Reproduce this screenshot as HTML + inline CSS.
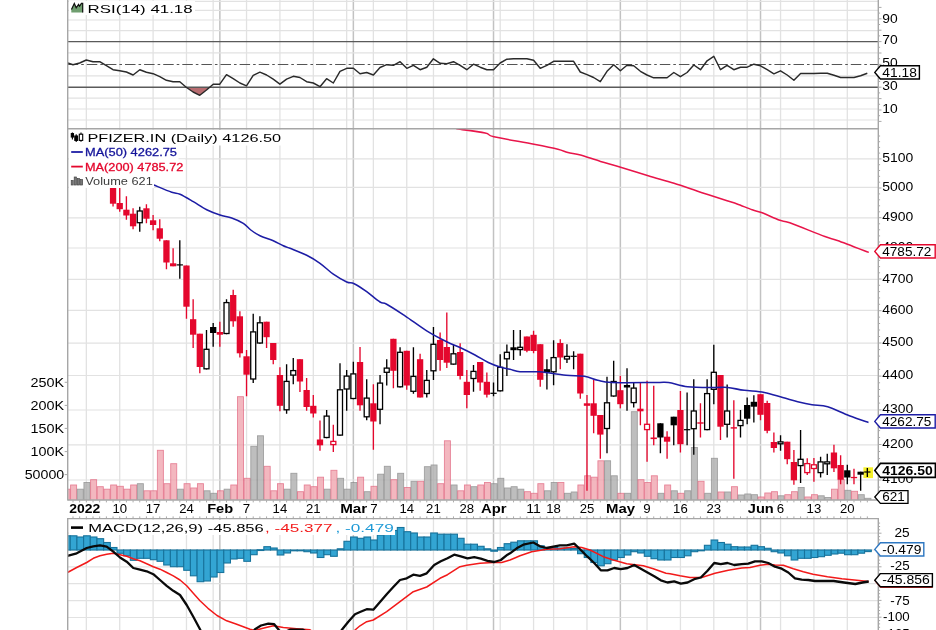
<!DOCTYPE html>
<html><head><meta charset="utf-8"><title>PFIZER.IN</title>
<style>html,body{margin:0;padding:0;background:#fff;}body{width:936px;height:630px;overflow:hidden;font-family:"Liberation Sans",sans-serif;}svg{display:block;filter:blur(0.45px)}</style>
</head><body>
<svg width="936" height="630" viewBox="0 0 936 630" font-family="Liberation Sans, sans-serif">
<rect width="936" height="630" fill="#fff"/>
<defs>
<clipPath id="cm"><rect x="67.7" y="128.8" width="810.5999999999999" height="371.2"/></clipPath>
<clipPath id="cr"><rect x="67.7" y="0" width="810.5999999999999" height="128.8"/></clipPath>
<clipPath id="cd"><rect x="67.7" y="518.6" width="810.5999999999999" height="112"/></clipPath>
</defs>
<line x1="86.35" y1="0" x2="86.35" y2="128.8" stroke="#e2e2e2" stroke-width="1.3"/>
<line x1="119.72" y1="0" x2="119.72" y2="128.8" stroke="#e2e2e2" stroke-width="1.3"/>
<line x1="153.10" y1="0" x2="153.10" y2="128.8" stroke="#e2e2e2" stroke-width="1.3"/>
<line x1="186.47" y1="0" x2="186.47" y2="128.8" stroke="#e2e2e2" stroke-width="1.3"/>
<line x1="213.18" y1="0" x2="213.18" y2="128.8" stroke="#e2e2e2" stroke-width="1.3"/>
<line x1="246.55" y1="0" x2="246.55" y2="128.8" stroke="#e2e2e2" stroke-width="1.3"/>
<line x1="279.92" y1="0" x2="279.92" y2="128.8" stroke="#e2e2e2" stroke-width="1.3"/>
<line x1="313.30" y1="0" x2="313.30" y2="128.8" stroke="#e2e2e2" stroke-width="1.3"/>
<line x1="346.67" y1="0" x2="346.67" y2="128.8" stroke="#e2e2e2" stroke-width="1.3"/>
<line x1="373.38" y1="0" x2="373.38" y2="128.8" stroke="#e2e2e2" stroke-width="1.3"/>
<line x1="406.75" y1="0" x2="406.75" y2="128.8" stroke="#e2e2e2" stroke-width="1.3"/>
<line x1="433.45" y1="0" x2="433.45" y2="128.8" stroke="#e2e2e2" stroke-width="1.3"/>
<line x1="466.82" y1="0" x2="466.82" y2="128.8" stroke="#e2e2e2" stroke-width="1.3"/>
<line x1="500.20" y1="0" x2="500.20" y2="128.8" stroke="#e2e2e2" stroke-width="1.3"/>
<line x1="533.57" y1="0" x2="533.57" y2="128.8" stroke="#e2e2e2" stroke-width="1.3"/>
<line x1="553.60" y1="0" x2="553.60" y2="128.8" stroke="#e2e2e2" stroke-width="1.3"/>
<line x1="586.98" y1="0" x2="586.98" y2="128.8" stroke="#e2e2e2" stroke-width="1.3"/>
<line x1="647.05" y1="0" x2="647.05" y2="128.8" stroke="#e2e2e2" stroke-width="1.3"/>
<line x1="680.42" y1="0" x2="680.42" y2="128.8" stroke="#e2e2e2" stroke-width="1.3"/>
<line x1="713.80" y1="0" x2="713.80" y2="128.8" stroke="#e2e2e2" stroke-width="1.3"/>
<line x1="747.17" y1="0" x2="747.17" y2="128.8" stroke="#e2e2e2" stroke-width="1.3"/>
<line x1="780.55" y1="0" x2="780.55" y2="128.8" stroke="#e2e2e2" stroke-width="1.3"/>
<line x1="813.92" y1="0" x2="813.92" y2="128.8" stroke="#e2e2e2" stroke-width="1.3"/>
<line x1="847.30" y1="0" x2="847.30" y2="128.8" stroke="#e2e2e2" stroke-width="1.3"/>
<line x1="219.85" y1="0" x2="219.85" y2="128.8" stroke="#c2c2c2" stroke-width="1.5"/>
<line x1="353.35" y1="0" x2="353.35" y2="128.8" stroke="#c2c2c2" stroke-width="1.5"/>
<line x1="493.52" y1="0" x2="493.52" y2="128.8" stroke="#c2c2c2" stroke-width="1.5"/>
<line x1="620.35" y1="0" x2="620.35" y2="128.8" stroke="#c2c2c2" stroke-width="1.5"/>
<line x1="760.52" y1="0" x2="760.52" y2="128.8" stroke="#c2c2c2" stroke-width="1.5"/>
<line x1="67.7" y1="1.3" x2="878.3" y2="1.3" stroke="#e2e2e2" stroke-width="1.2"/>
<line x1="67.7" y1="10.3" x2="878.3" y2="10.3" stroke="#e2e2e2" stroke-width="1.2"/>
<line x1="67.7" y1="20" x2="878.3" y2="20" stroke="#e2e2e2" stroke-width="1.2"/>
<line x1="67.7" y1="30.7" x2="878.3" y2="30.7" stroke="#e2e2e2" stroke-width="1.2"/>
<line x1="67.7" y1="52.9" x2="878.3" y2="52.9" stroke="#e2e2e2" stroke-width="1.2"/>
<line x1="67.7" y1="75.9" x2="878.3" y2="75.9" stroke="#e2e2e2" stroke-width="1.2"/>
<line x1="67.7" y1="98.2" x2="878.3" y2="98.2" stroke="#e2e2e2" stroke-width="1.2"/>
<line x1="67.7" y1="109" x2="878.3" y2="109" stroke="#e2e2e2" stroke-width="1.2"/>
<line x1="67.7" y1="120" x2="878.3" y2="120" stroke="#e2e2e2" stroke-width="1.2"/>
<g clip-path="url(#cr)">
<clipPath id="c30"><rect x="67.7" y="87.2" width="810.5999999999999" height="40"/></clipPath>
<polygon clip-path="url(#c30)" points="67.7,87.2 67.7,63.0 73.0,64.7 79.7,63.0 86.3,60.0 93.0,61.7 99.7,61.7 106.4,65.7 113.0,69.7 119.7,70.8 126.4,72.0 133.1,75.0 139.8,69.7 146.4,72.2 153.1,73.7 159.8,76.7 166.4,80.3 173.1,81.7 179.8,81.7 186.5,87.5 193.1,92.0 199.8,95.3 206.5,90.0 213.2,84.2 219.8,84.2 226.5,74.7 233.2,78.7 239.9,83.0 246.5,85.8 253.2,75.3 259.9,72.2 266.6,75.0 273.2,79.2 279.9,84.2 286.6,79.2 293.3,76.3 299.9,77.5 306.6,81.7 313.3,83.0 320.0,86.7 326.6,78.7 333.3,83.0 340.0,71.3 346.7,68.3 353.4,68.3 360.0,73.7 366.7,72.5 373.4,75.0 380.0,67.5 386.7,64.7 393.4,65.3 400.1,61.7 406.8,68.3 413.4,65.3 420.1,69.7 426.8,67.2 433.4,58.8 440.1,63.3 446.8,63.7 453.5,61.7 460.1,65.3 466.8,69.7 473.5,64.2 480.2,67.2 486.9,69.7 493.5,69.7 500.2,63.0 506.9,59.2 513.5,58.8 520.2,58.8 526.9,58.8 533.6,60.3 540.2,68.3 546.9,65.3 553.6,61.3 560.3,61.3 566.9,61.3 573.6,61.3 580.3,72.0 587.0,74.7 593.6,77.5 600.3,81.7 607.0,71.3 613.7,64.7 620.4,70.8 627.0,65.3 633.7,65.8 640.4,71.3 647.0,75.0 653.7,77.8 660.4,77.8 667.1,77.8 673.8,72.5 680.4,76.7 687.1,72.5 693.8,65.0 700.5,69.7 707.1,60.8 713.8,56.3 720.5,69.7 727.1,65.3 733.8,69.7 740.5,67.2 747.2,67.2 753.9,64.2 760.5,65.8 767.2,69.7 773.9,73.8 780.5,70.8 787.2,75.0 793.9,80.3 800.6,73.5 807.2,73.5 813.9,73.5 820.6,73.3 827.3,73.3 834.0,75.3 840.6,77.5 847.3,77.5 854.0,77.5 860.6,75.8 867.3,73.3 867.3,87.2" fill="#b86c70"/>
<line x1="67.7" y1="41.6" x2="878.3" y2="41.6" stroke="#5a5a5a" stroke-width="1.4"/>
<line x1="67.7" y1="87.2" x2="878.3" y2="87.2" stroke="#5a5a5a" stroke-width="1.4"/>
<line x1="67.7" y1="64.5" x2="878.3" y2="64.5" stroke="#555" stroke-width="1.1" stroke-dasharray="10.5,3,2.6,3"/>
<polyline points="67.7,63.0 73.0,64.7 79.7,63.0 86.3,60.0 93.0,61.7 99.7,61.7 106.4,65.7 113.0,69.7 119.7,70.8 126.4,72.0 133.1,75.0 139.8,69.7 146.4,72.2 153.1,73.7 159.8,76.7 166.4,80.3 173.1,81.7 179.8,81.7 186.5,87.5 193.1,92.0 199.8,95.3 206.5,90.0 213.2,84.2 219.8,84.2 226.5,74.7 233.2,78.7 239.9,83.0 246.5,85.8 253.2,75.3 259.9,72.2 266.6,75.0 273.2,79.2 279.9,84.2 286.6,79.2 293.3,76.3 299.9,77.5 306.6,81.7 313.3,83.0 320.0,86.7 326.6,78.7 333.3,83.0 340.0,71.3 346.7,68.3 353.4,68.3 360.0,73.7 366.7,72.5 373.4,75.0 380.0,67.5 386.7,64.7 393.4,65.3 400.1,61.7 406.8,68.3 413.4,65.3 420.1,69.7 426.8,67.2 433.4,58.8 440.1,63.3 446.8,63.7 453.5,61.7 460.1,65.3 466.8,69.7 473.5,64.2 480.2,67.2 486.9,69.7 493.5,69.7 500.2,63.0 506.9,59.2 513.5,58.8 520.2,58.8 526.9,58.8 533.6,60.3 540.2,68.3 546.9,65.3 553.6,61.3 560.3,61.3 566.9,61.3 573.6,61.3 580.3,72.0 587.0,74.7 593.6,77.5 600.3,81.7 607.0,71.3 613.7,64.7 620.4,70.8 627.0,65.3 633.7,65.8 640.4,71.3 647.0,75.0 653.7,77.8 660.4,77.8 667.1,77.8 673.8,72.5 680.4,76.7 687.1,72.5 693.8,65.0 700.5,69.7 707.1,60.8 713.8,56.3 720.5,69.7 727.1,65.3 733.8,69.7 740.5,67.2 747.2,67.2 753.9,64.2 760.5,65.8 767.2,69.7 773.9,73.8 780.5,70.8 787.2,75.0 793.9,80.3 800.6,73.5 807.2,73.5 813.9,73.5 820.6,73.3 827.3,73.3 834.0,75.3 840.6,77.5 847.3,77.5 854.0,77.5 860.6,75.8 867.3,73.3" fill="none" stroke="#2a2a2a" stroke-width="1.45" stroke-linejoin="round"/>
</g>
<rect x="69" y="1" width="126" height="14" fill="#fff"/>
<path d="M71.3 12.6 L71.3 9 L74.3 3.6 L76.2 7.6 L78.6 4.6 L79.6 6 L81.2 3.6 L82.9 3.6 L82.9 12.6 Z" fill="#6f9e6f"/>
<path d="M71.5 9.4 L74.3 3.4 L76.2 7.8 L78.6 4.4 L79.6 6.2 L81.4 3.4 L82.7 3.4 L82.7 12.4" fill="none" stroke="#111" stroke-width="1.2"/>
<text x="87.6" y="12.6" font-size="11.6" text-anchor="start" fill="#000" font-weight="normal" textLength="105.0" lengthAdjust="spacingAndGlyphs">RSI(14) 41.18</text>
<line x1="86.35" y1="128.8" x2="86.35" y2="500" stroke="#e2e2e2" stroke-width="1.3"/>
<line x1="119.72" y1="128.8" x2="119.72" y2="500" stroke="#e2e2e2" stroke-width="1.3"/>
<line x1="153.10" y1="128.8" x2="153.10" y2="500" stroke="#e2e2e2" stroke-width="1.3"/>
<line x1="186.47" y1="128.8" x2="186.47" y2="500" stroke="#e2e2e2" stroke-width="1.3"/>
<line x1="213.18" y1="128.8" x2="213.18" y2="500" stroke="#e2e2e2" stroke-width="1.3"/>
<line x1="246.55" y1="128.8" x2="246.55" y2="500" stroke="#e2e2e2" stroke-width="1.3"/>
<line x1="279.92" y1="128.8" x2="279.92" y2="500" stroke="#e2e2e2" stroke-width="1.3"/>
<line x1="313.30" y1="128.8" x2="313.30" y2="500" stroke="#e2e2e2" stroke-width="1.3"/>
<line x1="346.67" y1="128.8" x2="346.67" y2="500" stroke="#e2e2e2" stroke-width="1.3"/>
<line x1="373.38" y1="128.8" x2="373.38" y2="500" stroke="#e2e2e2" stroke-width="1.3"/>
<line x1="406.75" y1="128.8" x2="406.75" y2="500" stroke="#e2e2e2" stroke-width="1.3"/>
<line x1="433.45" y1="128.8" x2="433.45" y2="500" stroke="#e2e2e2" stroke-width="1.3"/>
<line x1="466.82" y1="128.8" x2="466.82" y2="500" stroke="#e2e2e2" stroke-width="1.3"/>
<line x1="500.20" y1="128.8" x2="500.20" y2="500" stroke="#e2e2e2" stroke-width="1.3"/>
<line x1="533.57" y1="128.8" x2="533.57" y2="500" stroke="#e2e2e2" stroke-width="1.3"/>
<line x1="553.60" y1="128.8" x2="553.60" y2="500" stroke="#e2e2e2" stroke-width="1.3"/>
<line x1="586.98" y1="128.8" x2="586.98" y2="500" stroke="#e2e2e2" stroke-width="1.3"/>
<line x1="647.05" y1="128.8" x2="647.05" y2="500" stroke="#e2e2e2" stroke-width="1.3"/>
<line x1="680.42" y1="128.8" x2="680.42" y2="500" stroke="#e2e2e2" stroke-width="1.3"/>
<line x1="713.80" y1="128.8" x2="713.80" y2="500" stroke="#e2e2e2" stroke-width="1.3"/>
<line x1="747.17" y1="128.8" x2="747.17" y2="500" stroke="#e2e2e2" stroke-width="1.3"/>
<line x1="780.55" y1="128.8" x2="780.55" y2="500" stroke="#e2e2e2" stroke-width="1.3"/>
<line x1="813.92" y1="128.8" x2="813.92" y2="500" stroke="#e2e2e2" stroke-width="1.3"/>
<line x1="847.30" y1="128.8" x2="847.30" y2="500" stroke="#e2e2e2" stroke-width="1.3"/>
<line x1="219.85" y1="128.8" x2="219.85" y2="500" stroke="#c2c2c2" stroke-width="1.5"/>
<line x1="353.35" y1="128.8" x2="353.35" y2="500" stroke="#c2c2c2" stroke-width="1.5"/>
<line x1="493.52" y1="128.8" x2="493.52" y2="500" stroke="#c2c2c2" stroke-width="1.5"/>
<line x1="620.35" y1="128.8" x2="620.35" y2="500" stroke="#c2c2c2" stroke-width="1.5"/>
<line x1="760.52" y1="128.8" x2="760.52" y2="500" stroke="#c2c2c2" stroke-width="1.5"/>
<line x1="67.7" y1="158.9" x2="878.3" y2="158.9" stroke="#e2e2e2" stroke-width="1.2"/>
<line x1="67.7" y1="187.4" x2="878.3" y2="187.4" stroke="#e2e2e2" stroke-width="1.2"/>
<line x1="67.7" y1="217.8" x2="878.3" y2="217.8" stroke="#e2e2e2" stroke-width="1.2"/>
<line x1="67.7" y1="248" x2="878.3" y2="248" stroke="#e2e2e2" stroke-width="1.2"/>
<line x1="67.7" y1="279.4" x2="878.3" y2="279.4" stroke="#e2e2e2" stroke-width="1.2"/>
<line x1="67.7" y1="310.4" x2="878.3" y2="310.4" stroke="#e2e2e2" stroke-width="1.2"/>
<line x1="67.7" y1="343.2" x2="878.3" y2="343.2" stroke="#e2e2e2" stroke-width="1.2"/>
<line x1="67.7" y1="375.5" x2="878.3" y2="375.5" stroke="#e2e2e2" stroke-width="1.2"/>
<line x1="67.7" y1="410" x2="878.3" y2="410" stroke="#e2e2e2" stroke-width="1.2"/>
<line x1="67.7" y1="444.9" x2="878.3" y2="444.9" stroke="#e2e2e2" stroke-width="1.2"/>
<line x1="67.7" y1="480" x2="878.3" y2="480" stroke="#e2e2e2" stroke-width="1.2"/>
<g clip-path="url(#cm)">
<rect x="63.92" y="489.2" width="6.0" height="12.8" fill="#f0a3ae" stroke="#e0607a" stroke-width="0.9" opacity="0.78"/>
<rect x="70.60" y="485.0" width="6.0" height="17.0" fill="#f0a3ae" stroke="#e0607a" stroke-width="0.9" opacity="0.78"/>
<rect x="77.27" y="489.2" width="6.0" height="12.8" fill="#acacac" stroke="#858585" stroke-width="0.9" opacity="0.78"/>
<rect x="83.95" y="482.5" width="6.0" height="19.5" fill="#acacac" stroke="#858585" stroke-width="0.9" opacity="0.78"/>
<rect x="90.62" y="479.7" width="6.0" height="22.3" fill="#f0a3ae" stroke="#e0607a" stroke-width="0.9" opacity="0.78"/>
<rect x="97.30" y="486.7" width="6.0" height="15.3" fill="#f0a3ae" stroke="#e0607a" stroke-width="0.9" opacity="0.78"/>
<rect x="103.97" y="489.2" width="6.0" height="12.8" fill="#f0a3ae" stroke="#e0607a" stroke-width="0.9" opacity="0.78"/>
<rect x="110.65" y="485.0" width="6.0" height="17.0" fill="#f0a3ae" stroke="#e0607a" stroke-width="0.9" opacity="0.78"/>
<rect x="117.32" y="486.3" width="6.0" height="15.7" fill="#f0a3ae" stroke="#e0607a" stroke-width="0.9" opacity="0.78"/>
<rect x="124.00" y="489.2" width="6.0" height="12.8" fill="#f0a3ae" stroke="#e0607a" stroke-width="0.9" opacity="0.78"/>
<rect x="130.67" y="485.0" width="6.0" height="17.0" fill="#f0a3ae" stroke="#e0607a" stroke-width="0.9" opacity="0.78"/>
<rect x="137.35" y="483.7" width="6.0" height="18.3" fill="#acacac" stroke="#858585" stroke-width="0.9" opacity="0.78"/>
<rect x="144.02" y="490.8" width="6.0" height="11.2" fill="#f0a3ae" stroke="#e0607a" stroke-width="0.9" opacity="0.78"/>
<rect x="150.70" y="490.8" width="6.0" height="11.2" fill="#f0a3ae" stroke="#e0607a" stroke-width="0.9" opacity="0.78"/>
<rect x="157.37" y="450.3" width="6.0" height="51.7" fill="#f0a3ae" stroke="#e0607a" stroke-width="0.9" opacity="0.78"/>
<rect x="164.05" y="483.7" width="6.0" height="18.3" fill="#f0a3ae" stroke="#e0607a" stroke-width="0.9" opacity="0.78"/>
<rect x="170.72" y="463.7" width="6.0" height="38.3" fill="#f0a3ae" stroke="#e0607a" stroke-width="0.9" opacity="0.78"/>
<rect x="177.40" y="489.2" width="6.0" height="12.8" fill="#acacac" stroke="#858585" stroke-width="0.9" opacity="0.78"/>
<rect x="184.07" y="483.7" width="6.0" height="18.3" fill="#f0a3ae" stroke="#e0607a" stroke-width="0.9" opacity="0.78"/>
<rect x="190.75" y="488.0" width="6.0" height="14.0" fill="#f0a3ae" stroke="#e0607a" stroke-width="0.9" opacity="0.78"/>
<rect x="197.42" y="483.7" width="6.0" height="18.3" fill="#f0a3ae" stroke="#e0607a" stroke-width="0.9" opacity="0.78"/>
<rect x="204.10" y="490.8" width="6.0" height="11.2" fill="#acacac" stroke="#858585" stroke-width="0.9" opacity="0.78"/>
<rect x="210.78" y="493.3" width="6.0" height="8.7" fill="#acacac" stroke="#858585" stroke-width="0.9" opacity="0.78"/>
<rect x="217.45" y="490.8" width="6.0" height="11.2" fill="#f0a3ae" stroke="#e0607a" stroke-width="0.9" opacity="0.78"/>
<rect x="224.12" y="489.2" width="6.0" height="12.8" fill="#acacac" stroke="#858585" stroke-width="0.9" opacity="0.78"/>
<rect x="230.80" y="485.0" width="6.0" height="17.0" fill="#f0a3ae" stroke="#e0607a" stroke-width="0.9" opacity="0.78"/>
<rect x="237.47" y="396.7" width="6.0" height="105.3" fill="#f0a3ae" stroke="#e0607a" stroke-width="0.9" opacity="0.78"/>
<rect x="244.15" y="478.3" width="6.0" height="23.7" fill="#f0a3ae" stroke="#e0607a" stroke-width="0.9" opacity="0.78"/>
<rect x="250.82" y="446.3" width="6.0" height="55.7" fill="#acacac" stroke="#858585" stroke-width="0.9" opacity="0.78"/>
<rect x="257.50" y="435.8" width="6.0" height="66.2" fill="#acacac" stroke="#858585" stroke-width="0.9" opacity="0.78"/>
<rect x="264.18" y="466.3" width="6.0" height="35.7" fill="#f0a3ae" stroke="#e0607a" stroke-width="0.9" opacity="0.78"/>
<rect x="270.85" y="490.8" width="6.0" height="11.2" fill="#f0a3ae" stroke="#e0607a" stroke-width="0.9" opacity="0.78"/>
<rect x="277.52" y="483.7" width="6.0" height="18.3" fill="#f0a3ae" stroke="#e0607a" stroke-width="0.9" opacity="0.78"/>
<rect x="284.20" y="489.2" width="6.0" height="12.8" fill="#acacac" stroke="#858585" stroke-width="0.9" opacity="0.78"/>
<rect x="290.88" y="473.3" width="6.0" height="28.7" fill="#acacac" stroke="#858585" stroke-width="0.9" opacity="0.78"/>
<rect x="297.55" y="491.7" width="6.0" height="10.3" fill="#f0a3ae" stroke="#e0607a" stroke-width="0.9" opacity="0.78"/>
<rect x="304.23" y="485.0" width="6.0" height="17.0" fill="#f0a3ae" stroke="#e0607a" stroke-width="0.9" opacity="0.78"/>
<rect x="310.90" y="486.7" width="6.0" height="15.3" fill="#f0a3ae" stroke="#e0607a" stroke-width="0.9" opacity="0.78"/>
<rect x="317.58" y="477.2" width="6.0" height="24.8" fill="#f0a3ae" stroke="#e0607a" stroke-width="0.9" opacity="0.78"/>
<rect x="324.25" y="489.2" width="6.0" height="12.8" fill="#acacac" stroke="#858585" stroke-width="0.9" opacity="0.78"/>
<rect x="330.93" y="470.3" width="6.0" height="31.7" fill="#f0a3ae" stroke="#e0607a" stroke-width="0.9" opacity="0.78"/>
<rect x="337.60" y="478.3" width="6.0" height="23.7" fill="#acacac" stroke="#858585" stroke-width="0.9" opacity="0.78"/>
<rect x="344.27" y="489.2" width="6.0" height="12.8" fill="#acacac" stroke="#858585" stroke-width="0.9" opacity="0.78"/>
<rect x="350.95" y="482.5" width="6.0" height="19.5" fill="#acacac" stroke="#858585" stroke-width="0.9" opacity="0.78"/>
<rect x="357.62" y="477.2" width="6.0" height="24.8" fill="#f0a3ae" stroke="#e0607a" stroke-width="0.9" opacity="0.78"/>
<rect x="364.30" y="491.7" width="6.0" height="10.3" fill="#acacac" stroke="#858585" stroke-width="0.9" opacity="0.78"/>
<rect x="370.98" y="486.3" width="6.0" height="15.7" fill="#f0a3ae" stroke="#e0607a" stroke-width="0.9" opacity="0.78"/>
<rect x="377.65" y="474.2" width="6.0" height="27.8" fill="#acacac" stroke="#858585" stroke-width="0.9" opacity="0.78"/>
<rect x="384.33" y="466.3" width="6.0" height="35.7" fill="#acacac" stroke="#858585" stroke-width="0.9" opacity="0.78"/>
<rect x="391.00" y="479.7" width="6.0" height="22.3" fill="#f0a3ae" stroke="#e0607a" stroke-width="0.9" opacity="0.78"/>
<rect x="397.67" y="473.3" width="6.0" height="28.7" fill="#acacac" stroke="#858585" stroke-width="0.9" opacity="0.78"/>
<rect x="404.35" y="487.5" width="6.0" height="14.5" fill="#f0a3ae" stroke="#e0607a" stroke-width="0.9" opacity="0.78"/>
<rect x="411.02" y="481.3" width="6.0" height="20.7" fill="#acacac" stroke="#858585" stroke-width="0.9" opacity="0.78"/>
<rect x="417.70" y="481.3" width="6.0" height="20.7" fill="#f0a3ae" stroke="#e0607a" stroke-width="0.9" opacity="0.78"/>
<rect x="424.38" y="466.7" width="6.0" height="35.3" fill="#acacac" stroke="#858585" stroke-width="0.9" opacity="0.78"/>
<rect x="431.05" y="465.0" width="6.0" height="37.0" fill="#acacac" stroke="#858585" stroke-width="0.9" opacity="0.78"/>
<rect x="437.73" y="483.7" width="6.0" height="18.3" fill="#f0a3ae" stroke="#e0607a" stroke-width="0.9" opacity="0.78"/>
<rect x="444.40" y="440.8" width="6.0" height="61.2" fill="#f0a3ae" stroke="#e0607a" stroke-width="0.9" opacity="0.78"/>
<rect x="451.08" y="485.0" width="6.0" height="17.0" fill="#acacac" stroke="#858585" stroke-width="0.9" opacity="0.78"/>
<rect x="457.75" y="490.8" width="6.0" height="11.2" fill="#f0a3ae" stroke="#e0607a" stroke-width="0.9" opacity="0.78"/>
<rect x="464.42" y="485.0" width="6.0" height="17.0" fill="#f0a3ae" stroke="#e0607a" stroke-width="0.9" opacity="0.78"/>
<rect x="471.10" y="486.7" width="6.0" height="15.3" fill="#acacac" stroke="#858585" stroke-width="0.9" opacity="0.78"/>
<rect x="477.77" y="485.0" width="6.0" height="17.0" fill="#f0a3ae" stroke="#e0607a" stroke-width="0.9" opacity="0.78"/>
<rect x="484.45" y="482.5" width="6.0" height="19.5" fill="#f0a3ae" stroke="#e0607a" stroke-width="0.9" opacity="0.78"/>
<rect x="491.12" y="483.7" width="6.0" height="18.3" fill="#acacac" stroke="#858585" stroke-width="0.9" opacity="0.78"/>
<rect x="497.80" y="478.3" width="6.0" height="23.7" fill="#acacac" stroke="#858585" stroke-width="0.9" opacity="0.78"/>
<rect x="504.48" y="488.0" width="6.0" height="14.0" fill="#acacac" stroke="#858585" stroke-width="0.9" opacity="0.78"/>
<rect x="511.15" y="486.7" width="6.0" height="15.3" fill="#acacac" stroke="#858585" stroke-width="0.9" opacity="0.78"/>
<rect x="517.83" y="489.2" width="6.0" height="12.8" fill="#acacac" stroke="#858585" stroke-width="0.9" opacity="0.78"/>
<rect x="524.50" y="491.7" width="6.0" height="10.3" fill="#f0a3ae" stroke="#e0607a" stroke-width="0.9" opacity="0.78"/>
<rect x="531.17" y="493.3" width="6.0" height="8.7" fill="#f0a3ae" stroke="#e0607a" stroke-width="0.9" opacity="0.78"/>
<rect x="537.85" y="483.7" width="6.0" height="18.3" fill="#f0a3ae" stroke="#e0607a" stroke-width="0.9" opacity="0.78"/>
<rect x="544.52" y="490.8" width="6.0" height="11.2" fill="#acacac" stroke="#858585" stroke-width="0.9" opacity="0.78"/>
<rect x="551.20" y="482.5" width="6.0" height="19.5" fill="#acacac" stroke="#858585" stroke-width="0.9" opacity="0.78"/>
<rect x="557.88" y="482.5" width="6.0" height="19.5" fill="#f0a3ae" stroke="#e0607a" stroke-width="0.9" opacity="0.78"/>
<rect x="564.55" y="493.3" width="6.0" height="8.7" fill="#acacac" stroke="#858585" stroke-width="0.9" opacity="0.78"/>
<rect x="571.23" y="492.0" width="6.0" height="10.0" fill="#acacac" stroke="#858585" stroke-width="0.9" opacity="0.78"/>
<rect x="577.90" y="485.0" width="6.0" height="17.0" fill="#f0a3ae" stroke="#e0607a" stroke-width="0.9" opacity="0.78"/>
<rect x="584.58" y="475.8" width="6.0" height="26.2" fill="#f0a3ae" stroke="#e0607a" stroke-width="0.9" opacity="0.78"/>
<rect x="591.25" y="477.2" width="6.0" height="24.8" fill="#f0a3ae" stroke="#e0607a" stroke-width="0.9" opacity="0.78"/>
<rect x="597.93" y="460.8" width="6.0" height="41.2" fill="#f0a3ae" stroke="#e0607a" stroke-width="0.9" opacity="0.78"/>
<rect x="604.60" y="460.8" width="6.0" height="41.2" fill="#acacac" stroke="#858585" stroke-width="0.9" opacity="0.78"/>
<rect x="611.27" y="475.8" width="6.0" height="26.2" fill="#acacac" stroke="#858585" stroke-width="0.9" opacity="0.78"/>
<rect x="617.95" y="493.3" width="6.0" height="8.7" fill="#f0a3ae" stroke="#e0607a" stroke-width="0.9" opacity="0.78"/>
<rect x="624.62" y="493.3" width="6.0" height="8.7" fill="#acacac" stroke="#858585" stroke-width="0.9" opacity="0.78"/>
<rect x="631.30" y="411.7" width="6.0" height="90.3" fill="#acacac" stroke="#858585" stroke-width="0.9" opacity="0.78"/>
<rect x="637.98" y="479.7" width="6.0" height="22.3" fill="#f0a3ae" stroke="#e0607a" stroke-width="0.9" opacity="0.78"/>
<rect x="644.65" y="482.5" width="6.0" height="19.5" fill="#f0a3ae" stroke="#e0607a" stroke-width="0.9" opacity="0.78"/>
<rect x="651.33" y="475.8" width="6.0" height="26.2" fill="#f0a3ae" stroke="#e0607a" stroke-width="0.9" opacity="0.78"/>
<rect x="658.00" y="493.3" width="6.0" height="8.7" fill="#acacac" stroke="#858585" stroke-width="0.9" opacity="0.78"/>
<rect x="664.68" y="485.0" width="6.0" height="17.0" fill="#f0a3ae" stroke="#e0607a" stroke-width="0.9" opacity="0.78"/>
<rect x="671.35" y="490.8" width="6.0" height="11.2" fill="#acacac" stroke="#858585" stroke-width="0.9" opacity="0.78"/>
<rect x="678.02" y="493.3" width="6.0" height="8.7" fill="#f0a3ae" stroke="#e0607a" stroke-width="0.9" opacity="0.78"/>
<rect x="684.70" y="490.8" width="6.0" height="11.2" fill="#acacac" stroke="#858585" stroke-width="0.9" opacity="0.78"/>
<rect x="691.38" y="447.5" width="6.0" height="54.5" fill="#acacac" stroke="#858585" stroke-width="0.9" opacity="0.78"/>
<rect x="698.05" y="481.3" width="6.0" height="20.7" fill="#f0a3ae" stroke="#e0607a" stroke-width="0.9" opacity="0.78"/>
<rect x="704.73" y="493.3" width="6.0" height="8.7" fill="#acacac" stroke="#858585" stroke-width="0.9" opacity="0.78"/>
<rect x="711.40" y="458.3" width="6.0" height="43.7" fill="#acacac" stroke="#858585" stroke-width="0.9" opacity="0.78"/>
<rect x="718.08" y="492.0" width="6.0" height="10.0" fill="#f0a3ae" stroke="#e0607a" stroke-width="0.9" opacity="0.78"/>
<rect x="724.75" y="492.0" width="6.0" height="10.0" fill="#acacac" stroke="#858585" stroke-width="0.9" opacity="0.78"/>
<rect x="731.43" y="486.7" width="6.0" height="15.3" fill="#f0a3ae" stroke="#e0607a" stroke-width="0.9" opacity="0.78"/>
<rect x="738.10" y="495.0" width="6.0" height="7.0" fill="#acacac" stroke="#858585" stroke-width="0.9" opacity="0.78"/>
<rect x="744.77" y="494.0" width="6.0" height="8.0" fill="#acacac" stroke="#858585" stroke-width="0.9" opacity="0.78"/>
<rect x="751.45" y="494.7" width="6.0" height="7.3" fill="#acacac" stroke="#858585" stroke-width="0.9" opacity="0.78"/>
<rect x="758.12" y="497.0" width="6.0" height="5.0" fill="#f0a3ae" stroke="#e0607a" stroke-width="0.9" opacity="0.78"/>
<rect x="764.80" y="493.0" width="6.0" height="9.0" fill="#f0a3ae" stroke="#e0607a" stroke-width="0.9" opacity="0.78"/>
<rect x="771.48" y="491.7" width="6.0" height="10.3" fill="#f0a3ae" stroke="#e0607a" stroke-width="0.9" opacity="0.78"/>
<rect x="778.15" y="495.8" width="6.0" height="6.2" fill="#acacac" stroke="#858585" stroke-width="0.9" opacity="0.78"/>
<rect x="784.83" y="494.7" width="6.0" height="7.3" fill="#f0a3ae" stroke="#e0607a" stroke-width="0.9" opacity="0.78"/>
<rect x="791.50" y="491.7" width="6.0" height="10.3" fill="#f0a3ae" stroke="#e0607a" stroke-width="0.9" opacity="0.78"/>
<rect x="798.18" y="487.5" width="6.0" height="14.5" fill="#acacac" stroke="#858585" stroke-width="0.9" opacity="0.78"/>
<rect x="804.85" y="497.0" width="6.0" height="5.0" fill="#f0a3ae" stroke="#e0607a" stroke-width="0.9" opacity="0.78"/>
<rect x="811.52" y="494.7" width="6.0" height="7.3" fill="#f0a3ae" stroke="#e0607a" stroke-width="0.9" opacity="0.78"/>
<rect x="818.20" y="495.8" width="6.0" height="6.2" fill="#acacac" stroke="#858585" stroke-width="0.9" opacity="0.78"/>
<rect x="824.88" y="497.5" width="6.0" height="4.5" fill="#acacac" stroke="#858585" stroke-width="0.9" opacity="0.78"/>
<rect x="831.55" y="489.2" width="6.0" height="12.8" fill="#f0a3ae" stroke="#e0607a" stroke-width="0.9" opacity="0.78"/>
<rect x="838.23" y="479.7" width="6.0" height="22.3" fill="#f0a3ae" stroke="#e0607a" stroke-width="0.9" opacity="0.78"/>
<rect x="844.90" y="490.3" width="6.0" height="11.7" fill="#acacac" stroke="#858585" stroke-width="0.9" opacity="0.78"/>
<rect x="851.58" y="491.3" width="6.0" height="10.7" fill="#f0a3ae" stroke="#e0607a" stroke-width="0.9" opacity="0.78"/>
<rect x="858.25" y="494.7" width="6.0" height="7.3" fill="#acacac" stroke="#858585" stroke-width="0.9" opacity="0.78"/>
<rect x="864.93" y="498.3" width="6.0" height="3.7" fill="#acacac" stroke="#858585" stroke-width="0.9" opacity="0.78"/>
<rect x="863.4" y="467.3" width="9.6" height="10.8" fill="#f5f02a"/>
<line x1="113.05" y1="186.0" x2="113.05" y2="206.5" stroke="#e4072d" stroke-width="1.35"/>
<rect x="109.90" y="186.0" width="6.3" height="17.7" fill="#e4072d"/>
<line x1="119.72" y1="186.0" x2="119.72" y2="211.7" stroke="#e4072d" stroke-width="1.35"/>
<rect x="116.57" y="203.0" width="6.3" height="6.2" fill="#e4072d"/>
<line x1="126.40" y1="196.3" x2="126.40" y2="219.7" stroke="#e4072d" stroke-width="1.35"/>
<rect x="123.25" y="209.7" width="6.3" height="5.8" fill="#e4072d"/>
<line x1="133.07" y1="208.3" x2="133.07" y2="229.2" stroke="#e4072d" stroke-width="1.35"/>
<rect x="129.92" y="213.7" width="6.3" height="12.6" fill="#e4072d"/>
<line x1="139.75" y1="206.7" x2="139.75" y2="231.7" stroke="#000" stroke-width="1.35"/>
<rect x="137.25" y="211.0" width="5.0" height="11.7" fill="#fff" stroke="#000" stroke-width="1.3"/>
<line x1="146.42" y1="204.2" x2="146.42" y2="223.3" stroke="#e4072d" stroke-width="1.35"/>
<rect x="143.27" y="208.3" width="6.3" height="10.4" fill="#e4072d"/>
<line x1="153.10" y1="215.0" x2="153.10" y2="230.3" stroke="#e4072d" stroke-width="1.35"/>
<rect x="149.95" y="220.3" width="6.3" height="4.7" fill="#e4072d"/>
<line x1="159.77" y1="219.2" x2="159.77" y2="241.3" stroke="#e4072d" stroke-width="1.35"/>
<rect x="156.62" y="228.3" width="6.3" height="10.4" fill="#e4072d"/>
<line x1="166.45" y1="240.3" x2="166.45" y2="269.2" stroke="#e4072d" stroke-width="1.35"/>
<rect x="163.30" y="240.3" width="6.3" height="22.2" fill="#e4072d"/>
<line x1="173.12" y1="248.3" x2="173.12" y2="266.3" stroke="#e4072d" stroke-width="1.35"/>
<rect x="169.97" y="263.3" width="6.3" height="3.0" fill="#e4072d"/>
<line x1="179.80" y1="240.3" x2="179.80" y2="278.8" stroke="#000" stroke-width="1.35"/>
<rect x="176.65" y="264.3" width="6.3" height="1.2" fill="#000"/>
<line x1="186.47" y1="265.5" x2="186.47" y2="318.7" stroke="#e4072d" stroke-width="1.35"/>
<rect x="183.32" y="265.5" width="6.3" height="41.2" fill="#e4072d"/>
<line x1="193.15" y1="299.2" x2="193.15" y2="348.0" stroke="#e4072d" stroke-width="1.35"/>
<rect x="190.00" y="319.2" width="6.3" height="15.5" fill="#e4072d"/>
<line x1="199.82" y1="333.7" x2="199.82" y2="373.3" stroke="#e4072d" stroke-width="1.35"/>
<rect x="196.67" y="333.7" width="6.3" height="33.3" fill="#e4072d"/>
<line x1="206.50" y1="330.0" x2="206.50" y2="369.5" stroke="#000" stroke-width="1.35"/>
<rect x="204.00" y="349.3" width="5.0" height="19.5" fill="#fff" stroke="#000" stroke-width="1.3"/>
<line x1="213.18" y1="323.0" x2="213.18" y2="346.7" stroke="#000" stroke-width="1.35"/>
<rect x="210.03" y="327.0" width="6.3" height="6.0" fill="#000"/>
<line x1="219.85" y1="321.7" x2="219.85" y2="346.7" stroke="#e4072d" stroke-width="1.35"/>
<rect x="216.70" y="332.0" width="6.3" height="2.7" fill="#e4072d"/>
<line x1="226.52" y1="299.2" x2="226.52" y2="334.2" stroke="#000" stroke-width="1.35"/>
<rect x="224.02" y="302.6" width="5.0" height="30.9" fill="#fff" stroke="#000" stroke-width="1.3"/>
<line x1="233.20" y1="289.7" x2="233.20" y2="326.7" stroke="#e4072d" stroke-width="1.35"/>
<rect x="230.05" y="295.0" width="6.3" height="26.3" fill="#e4072d"/>
<line x1="239.88" y1="311.2" x2="239.88" y2="357.5" stroke="#e4072d" stroke-width="1.35"/>
<rect x="236.72" y="316.3" width="6.3" height="37.0" fill="#e4072d"/>
<line x1="246.55" y1="350.0" x2="246.55" y2="396.3" stroke="#e4072d" stroke-width="1.35"/>
<rect x="243.40" y="356.3" width="6.3" height="18.4" fill="#e4072d"/>
<line x1="253.22" y1="313.8" x2="253.22" y2="383.0" stroke="#000" stroke-width="1.35"/>
<rect x="250.72" y="331.9" width="5.0" height="47.1" fill="#fff" stroke="#000" stroke-width="1.3"/>
<line x1="259.90" y1="316.3" x2="259.90" y2="343.7" stroke="#000" stroke-width="1.35"/>
<rect x="257.40" y="322.8" width="5.0" height="20.2" fill="#fff" stroke="#000" stroke-width="1.3"/>
<line x1="266.57" y1="321.7" x2="266.57" y2="348.0" stroke="#e4072d" stroke-width="1.35"/>
<rect x="263.43" y="321.7" width="6.3" height="15.5" fill="#e4072d"/>
<line x1="273.25" y1="343.0" x2="273.25" y2="364.2" stroke="#e4072d" stroke-width="1.35"/>
<rect x="270.10" y="343.0" width="6.3" height="17.0" fill="#e4072d"/>
<line x1="279.92" y1="367.2" x2="279.92" y2="411.3" stroke="#e4072d" stroke-width="1.35"/>
<rect x="276.77" y="375.0" width="6.3" height="30.8" fill="#e4072d"/>
<line x1="286.60" y1="364.2" x2="286.60" y2="413.7" stroke="#000" stroke-width="1.35"/>
<rect x="284.10" y="381.4" width="5.0" height="28.4" fill="#fff" stroke="#000" stroke-width="1.3"/>
<line x1="293.27" y1="358.0" x2="293.27" y2="384.2" stroke="#000" stroke-width="1.35"/>
<rect x="290.77" y="370.6" width="5.0" height="4.5" fill="#fff" stroke="#000" stroke-width="1.3"/>
<line x1="299.95" y1="359.2" x2="299.95" y2="392.0" stroke="#e4072d" stroke-width="1.35"/>
<rect x="296.80" y="359.2" width="6.3" height="22.3" fill="#e4072d"/>
<line x1="306.62" y1="378.0" x2="306.62" y2="410.8" stroke="#e4072d" stroke-width="1.35"/>
<rect x="303.48" y="390.0" width="6.3" height="17.0" fill="#e4072d"/>
<line x1="313.30" y1="395.0" x2="313.30" y2="417.5" stroke="#e4072d" stroke-width="1.35"/>
<rect x="310.15" y="405.8" width="6.3" height="7.7" fill="#e4072d"/>
<line x1="319.98" y1="420.5" x2="319.98" y2="450.8" stroke="#e4072d" stroke-width="1.35"/>
<rect x="316.83" y="439.5" width="6.3" height="5.8" fill="#e4072d"/>
<line x1="326.65" y1="410.0" x2="326.65" y2="438.2" stroke="#000" stroke-width="1.35"/>
<rect x="324.15" y="416.1" width="5.0" height="21.4" fill="#fff" stroke="#000" stroke-width="1.3"/>
<line x1="333.32" y1="424.7" x2="333.32" y2="452.0" stroke="#e4072d" stroke-width="1.35"/>
<rect x="330.82" y="441.4" width="5.0" height="3.2" fill="#fff" stroke="#e4072d" stroke-width="1.3"/>
<line x1="340.00" y1="363.3" x2="340.00" y2="435.8" stroke="#000" stroke-width="1.35"/>
<rect x="337.50" y="389.8" width="5.0" height="45.3" fill="#fff" stroke="#000" stroke-width="1.3"/>
<line x1="346.67" y1="370.0" x2="346.67" y2="410.8" stroke="#000" stroke-width="1.35"/>
<rect x="344.17" y="376.1" width="5.0" height="12.9" fill="#fff" stroke="#000" stroke-width="1.3"/>
<line x1="353.35" y1="361.7" x2="353.35" y2="399.2" stroke="#000" stroke-width="1.35"/>
<rect x="350.85" y="373.9" width="5.0" height="24.6" fill="#fff" stroke="#000" stroke-width="1.3"/>
<line x1="360.02" y1="347.0" x2="360.02" y2="410.8" stroke="#e4072d" stroke-width="1.35"/>
<rect x="356.88" y="362.0" width="6.3" height="43.3" fill="#e4072d"/>
<line x1="366.70" y1="379.2" x2="366.70" y2="420.3" stroke="#000" stroke-width="1.35"/>
<rect x="364.20" y="398.1" width="5.0" height="18.7" fill="#fff" stroke="#000" stroke-width="1.3"/>
<line x1="373.38" y1="384.2" x2="373.38" y2="449.7" stroke="#e4072d" stroke-width="1.35"/>
<rect x="370.23" y="403.3" width="6.3" height="18.2" fill="#e4072d"/>
<line x1="380.05" y1="375.0" x2="380.05" y2="424.2" stroke="#000" stroke-width="1.35"/>
<rect x="377.55" y="383.1" width="5.0" height="26.2" fill="#fff" stroke="#000" stroke-width="1.3"/>
<line x1="386.73" y1="359.2" x2="386.73" y2="385.5" stroke="#000" stroke-width="1.35"/>
<rect x="384.23" y="368.1" width="5.0" height="4.2" fill="#fff" stroke="#000" stroke-width="1.3"/>
<line x1="393.40" y1="338.8" x2="393.40" y2="388.3" stroke="#e4072d" stroke-width="1.35"/>
<rect x="390.25" y="338.8" width="6.3" height="32.0" fill="#e4072d"/>
<line x1="400.07" y1="347.3" x2="400.07" y2="387.5" stroke="#000" stroke-width="1.35"/>
<rect x="397.57" y="352.3" width="5.0" height="34.5" fill="#fff" stroke="#000" stroke-width="1.3"/>
<line x1="406.75" y1="350.8" x2="406.75" y2="389.7" stroke="#e4072d" stroke-width="1.35"/>
<rect x="403.60" y="350.8" width="6.3" height="34.7" fill="#e4072d"/>
<line x1="413.42" y1="347.3" x2="413.42" y2="393.7" stroke="#000" stroke-width="1.35"/>
<rect x="410.92" y="376.4" width="5.0" height="14.9" fill="#fff" stroke="#000" stroke-width="1.3"/>
<line x1="420.10" y1="353.7" x2="420.10" y2="397.5" stroke="#e4072d" stroke-width="1.35"/>
<rect x="416.95" y="359.2" width="6.3" height="38.3" fill="#e4072d"/>
<line x1="426.77" y1="370.0" x2="426.77" y2="397.5" stroke="#000" stroke-width="1.35"/>
<rect x="424.27" y="380.4" width="5.0" height="13.1" fill="#fff" stroke="#000" stroke-width="1.3"/>
<line x1="433.45" y1="327.0" x2="433.45" y2="380.0" stroke="#000" stroke-width="1.35"/>
<rect x="430.95" y="344.3" width="5.0" height="26.5" fill="#fff" stroke="#000" stroke-width="1.3"/>
<line x1="440.12" y1="332.5" x2="440.12" y2="370.8" stroke="#e4072d" stroke-width="1.35"/>
<rect x="436.98" y="340.0" width="6.3" height="20.0" fill="#e4072d"/>
<line x1="446.80" y1="312.5" x2="446.80" y2="368.0" stroke="#e4072d" stroke-width="1.35"/>
<rect x="443.65" y="347.0" width="6.3" height="15.7" fill="#e4072d"/>
<line x1="453.48" y1="345.0" x2="453.48" y2="364.8" stroke="#000" stroke-width="1.35"/>
<rect x="450.98" y="353.8" width="5.0" height="10.3" fill="#fff" stroke="#000" stroke-width="1.3"/>
<line x1="460.15" y1="343.3" x2="460.15" y2="379.6" stroke="#e4072d" stroke-width="1.35"/>
<rect x="457.00" y="352.0" width="6.3" height="24.0" fill="#e4072d"/>
<line x1="466.82" y1="370.0" x2="466.82" y2="408.3" stroke="#e4072d" stroke-width="1.35"/>
<rect x="463.67" y="381.8" width="6.3" height="13.2" fill="#e4072d"/>
<line x1="473.50" y1="365.0" x2="473.50" y2="391.7" stroke="#000" stroke-width="1.35"/>
<rect x="471.00" y="371.4" width="5.0" height="7.1" fill="#fff" stroke="#000" stroke-width="1.3"/>
<line x1="480.17" y1="362.0" x2="480.17" y2="390.8" stroke="#e4072d" stroke-width="1.35"/>
<rect x="477.02" y="362.0" width="6.3" height="20.5" fill="#e4072d"/>
<line x1="486.85" y1="372.5" x2="486.85" y2="397.5" stroke="#e4072d" stroke-width="1.35"/>
<rect x="483.70" y="381.8" width="6.3" height="12.9" fill="#e4072d"/>
<line x1="493.52" y1="382.5" x2="493.52" y2="396.3" stroke="#000" stroke-width="1.35"/>
<rect x="490.38" y="392.7" width="6.3" height="1.2" fill="#000"/>
<line x1="500.20" y1="354.2" x2="500.20" y2="391.5" stroke="#000" stroke-width="1.35"/>
<rect x="497.70" y="367.3" width="5.0" height="23.5" fill="#fff" stroke="#000" stroke-width="1.3"/>
<line x1="506.88" y1="344.4" x2="506.88" y2="376.0" stroke="#000" stroke-width="1.35"/>
<rect x="504.38" y="352.3" width="5.0" height="6.5" fill="#fff" stroke="#000" stroke-width="1.3"/>
<line x1="513.55" y1="330.0" x2="513.55" y2="360.0" stroke="#000" stroke-width="1.35"/>
<rect x="510.40" y="347.3" width="6.3" height="2.9" fill="#000"/>
<line x1="520.23" y1="330.0" x2="520.23" y2="355.8" stroke="#000" stroke-width="1.35"/>
<rect x="517.73" y="347.3" width="5.0" height="2.3" fill="#fff" stroke="#000" stroke-width="1.3"/>
<line x1="526.90" y1="336.5" x2="526.90" y2="352.2" stroke="#e4072d" stroke-width="1.35"/>
<rect x="523.75" y="336.5" width="6.3" height="14.3" fill="#e4072d"/>
<line x1="533.57" y1="330.8" x2="533.57" y2="353.3" stroke="#e4072d" stroke-width="1.35"/>
<rect x="530.42" y="334.8" width="6.3" height="16.2" fill="#e4072d"/>
<line x1="540.25" y1="344.2" x2="540.25" y2="386.7" stroke="#e4072d" stroke-width="1.35"/>
<rect x="537.10" y="344.2" width="6.3" height="35.6" fill="#e4072d"/>
<line x1="546.92" y1="359.2" x2="546.92" y2="389.5" stroke="#000" stroke-width="1.35"/>
<rect x="543.77" y="369.2" width="6.3" height="3.3" fill="#000"/>
<line x1="553.60" y1="340.3" x2="553.60" y2="385.3" stroke="#000" stroke-width="1.35"/>
<rect x="551.10" y="357.6" width="5.0" height="14.2" fill="#fff" stroke="#000" stroke-width="1.3"/>
<line x1="560.27" y1="339.2" x2="560.27" y2="369.2" stroke="#e4072d" stroke-width="1.35"/>
<rect x="557.12" y="343.0" width="6.3" height="14.5" fill="#e4072d"/>
<line x1="566.95" y1="344.2" x2="566.95" y2="363.0" stroke="#000" stroke-width="1.35"/>
<rect x="564.45" y="356.4" width="5.0" height="2.6" fill="#fff" stroke="#000" stroke-width="1.3"/>
<line x1="573.62" y1="351.3" x2="573.62" y2="369.2" stroke="#000" stroke-width="1.35"/>
<rect x="570.48" y="355.7" width="6.3" height="1.2" fill="#000"/>
<line x1="580.30" y1="353.7" x2="580.30" y2="398.7" stroke="#e4072d" stroke-width="1.35"/>
<rect x="577.15" y="353.7" width="6.3" height="39.8" fill="#e4072d"/>
<line x1="586.98" y1="395.0" x2="586.98" y2="490.8" stroke="#e4072d" stroke-width="1.35"/>
<rect x="583.83" y="403.3" width="6.3" height="2.5" fill="#e4072d"/>
<line x1="593.65" y1="380.0" x2="593.65" y2="433.3" stroke="#e4072d" stroke-width="1.35"/>
<rect x="590.50" y="403.3" width="6.3" height="12.5" fill="#e4072d"/>
<line x1="600.33" y1="415.0" x2="600.33" y2="458.8" stroke="#e4072d" stroke-width="1.35"/>
<rect x="597.18" y="415.0" width="6.3" height="19.6" fill="#e4072d"/>
<line x1="607.00" y1="376.7" x2="607.00" y2="453.3" stroke="#000" stroke-width="1.35"/>
<rect x="604.50" y="402.8" width="5.0" height="25.7" fill="#fff" stroke="#000" stroke-width="1.3"/>
<line x1="613.67" y1="360.8" x2="613.67" y2="396.7" stroke="#000" stroke-width="1.35"/>
<rect x="611.17" y="381.5" width="5.0" height="14.5" fill="#fff" stroke="#000" stroke-width="1.3"/>
<line x1="620.35" y1="375.8" x2="620.35" y2="408.3" stroke="#e4072d" stroke-width="1.35"/>
<rect x="617.20" y="390.2" width="6.3" height="14.0" fill="#e4072d"/>
<line x1="627.02" y1="368.3" x2="627.02" y2="410.8" stroke="#000" stroke-width="1.35"/>
<rect x="623.88" y="385.0" width="6.3" height="2.5" fill="#000"/>
<line x1="633.70" y1="382.5" x2="633.70" y2="407.5" stroke="#000" stroke-width="1.35"/>
<rect x="631.20" y="388.1" width="5.0" height="14.5" fill="#fff" stroke="#000" stroke-width="1.3"/>
<line x1="640.38" y1="383.0" x2="640.38" y2="425.3" stroke="#e4072d" stroke-width="1.35"/>
<rect x="637.23" y="408.7" width="6.3" height="2.6" fill="#e4072d"/>
<line x1="647.05" y1="380.8" x2="647.05" y2="461.7" stroke="#e4072d" stroke-width="1.35"/>
<rect x="644.55" y="424.3" width="5.0" height="5.3" fill="#fff" stroke="#e4072d" stroke-width="1.3"/>
<line x1="653.73" y1="385.8" x2="653.73" y2="445.3" stroke="#e4072d" stroke-width="1.35"/>
<rect x="650.58" y="437.5" width="6.3" height="1.6" fill="#e4072d"/>
<line x1="660.40" y1="423.3" x2="660.40" y2="453.3" stroke="#000" stroke-width="1.35"/>
<rect x="657.25" y="423.3" width="6.3" height="14.2" fill="#000"/>
<line x1="667.08" y1="431.3" x2="667.08" y2="458.7" stroke="#e4072d" stroke-width="1.35"/>
<rect x="663.93" y="436.7" width="6.3" height="5.0" fill="#e4072d"/>
<line x1="673.75" y1="416.7" x2="673.75" y2="445.3" stroke="#000" stroke-width="1.35"/>
<rect x="670.60" y="416.7" width="6.3" height="8.6" fill="#000"/>
<line x1="680.42" y1="391.0" x2="680.42" y2="452.5" stroke="#e4072d" stroke-width="1.35"/>
<rect x="677.27" y="410.0" width="6.3" height="34.2" fill="#e4072d"/>
<line x1="687.10" y1="392.5" x2="687.10" y2="445.3" stroke="#000" stroke-width="1.35"/>
<rect x="683.95" y="429.1" width="6.3" height="1.2" fill="#000"/>
<line x1="693.77" y1="379.2" x2="693.77" y2="454.7" stroke="#000" stroke-width="1.35"/>
<rect x="691.27" y="411.0" width="5.0" height="17.7" fill="#fff" stroke="#000" stroke-width="1.3"/>
<line x1="700.45" y1="403.2" x2="700.45" y2="437.5" stroke="#e4072d" stroke-width="1.35"/>
<rect x="697.30" y="422.3" width="6.3" height="1.4" fill="#e4072d"/>
<line x1="707.12" y1="379.2" x2="707.12" y2="430.3" stroke="#000" stroke-width="1.35"/>
<rect x="704.62" y="393.6" width="5.0" height="36.0" fill="#fff" stroke="#000" stroke-width="1.3"/>
<line x1="713.80" y1="344.7" x2="713.80" y2="404.2" stroke="#000" stroke-width="1.35"/>
<rect x="711.30" y="372.3" width="5.0" height="17.0" fill="#fff" stroke="#000" stroke-width="1.3"/>
<line x1="720.48" y1="375.0" x2="720.48" y2="440.0" stroke="#e4072d" stroke-width="1.35"/>
<rect x="717.33" y="375.0" width="6.3" height="51.7" fill="#e4072d"/>
<line x1="727.15" y1="384.4" x2="727.15" y2="437.5" stroke="#000" stroke-width="1.35"/>
<rect x="724.65" y="411.0" width="5.0" height="13.3" fill="#fff" stroke="#000" stroke-width="1.3"/>
<line x1="733.83" y1="400.3" x2="733.83" y2="478.7" stroke="#e4072d" stroke-width="1.35"/>
<rect x="730.68" y="427.2" width="6.3" height="1.4" fill="#e4072d"/>
<line x1="740.50" y1="410.0" x2="740.50" y2="437.5" stroke="#000" stroke-width="1.35"/>
<rect x="738.00" y="420.4" width="5.0" height="5.2" fill="#fff" stroke="#000" stroke-width="1.3"/>
<line x1="747.17" y1="397.5" x2="747.17" y2="424.2" stroke="#000" stroke-width="1.35"/>
<rect x="744.02" y="405.0" width="6.3" height="13.7" fill="#000"/>
<line x1="753.85" y1="395.3" x2="753.85" y2="422.5" stroke="#000" stroke-width="1.35"/>
<rect x="750.70" y="401.8" width="6.3" height="4.9" fill="#000"/>
<line x1="760.52" y1="394.2" x2="760.52" y2="420.2" stroke="#e4072d" stroke-width="1.35"/>
<rect x="757.38" y="394.2" width="6.3" height="20.6" fill="#e4072d"/>
<line x1="767.20" y1="400.8" x2="767.20" y2="433.3" stroke="#e4072d" stroke-width="1.35"/>
<rect x="764.05" y="403.0" width="6.3" height="27.8" fill="#e4072d"/>
<line x1="773.88" y1="432.5" x2="773.88" y2="452.5" stroke="#e4072d" stroke-width="1.35"/>
<rect x="770.73" y="442.0" width="6.3" height="6.0" fill="#e4072d"/>
<line x1="780.55" y1="435.3" x2="780.55" y2="450.8" stroke="#000" stroke-width="1.35"/>
<rect x="778.05" y="441.9" width="5.0" height="1.9" fill="#fff" stroke="#000" stroke-width="1.3"/>
<line x1="787.23" y1="441.7" x2="787.23" y2="464.2" stroke="#e4072d" stroke-width="1.35"/>
<rect x="784.08" y="441.7" width="6.3" height="17.5" fill="#e4072d"/>
<line x1="793.90" y1="450.0" x2="793.90" y2="484.7" stroke="#e4072d" stroke-width="1.35"/>
<rect x="790.75" y="462.0" width="6.3" height="18.3" fill="#e4072d"/>
<line x1="800.58" y1="430.0" x2="800.58" y2="483.0" stroke="#000" stroke-width="1.35"/>
<rect x="798.08" y="459.3" width="5.0" height="6.3" fill="#fff" stroke="#000" stroke-width="1.3"/>
<line x1="807.25" y1="458.3" x2="807.25" y2="475.0" stroke="#e4072d" stroke-width="1.35"/>
<rect x="804.75" y="463.6" width="5.0" height="9.0" fill="#fff" stroke="#e4072d" stroke-width="1.3"/>
<line x1="813.92" y1="458.0" x2="813.92" y2="481.7" stroke="#e4072d" stroke-width="1.35"/>
<rect x="811.42" y="464.8" width="5.0" height="3.7" fill="#fff" stroke="#e4072d" stroke-width="1.3"/>
<line x1="820.60" y1="456.7" x2="820.60" y2="477.5" stroke="#000" stroke-width="1.35"/>
<rect x="818.10" y="461.9" width="5.0" height="10.7" fill="#fff" stroke="#000" stroke-width="1.3"/>
<line x1="827.27" y1="453.7" x2="827.27" y2="475.0" stroke="#000" stroke-width="1.35"/>
<rect x="824.77" y="461.9" width="5.0" height="1.9" fill="#fff" stroke="#000" stroke-width="1.3"/>
<line x1="833.95" y1="444.7" x2="833.95" y2="472.0" stroke="#e4072d" stroke-width="1.35"/>
<rect x="830.80" y="452.5" width="6.3" height="15.8" fill="#e4072d"/>
<line x1="840.62" y1="455.3" x2="840.62" y2="484.2" stroke="#e4072d" stroke-width="1.35"/>
<rect x="837.48" y="465.0" width="6.3" height="14.7" fill="#e4072d"/>
<line x1="847.30" y1="464.7" x2="847.30" y2="484.2" stroke="#000" stroke-width="1.35"/>
<rect x="844.15" y="470.3" width="6.3" height="7.2" fill="#000"/>
<line x1="853.98" y1="468.7" x2="853.98" y2="484.2" stroke="#e4072d" stroke-width="1.35"/>
<rect x="850.83" y="476.9" width="6.3" height="1.3" fill="#e4072d"/>
<line x1="860.65" y1="471.7" x2="860.65" y2="490.8" stroke="#000" stroke-width="1.35"/>
<rect x="857.50" y="471.7" width="6.3" height="3.0" fill="#000"/>
<line x1="867.33" y1="468.0" x2="867.33" y2="477.0" stroke="#000" stroke-width="1.35"/>
<rect x="864.18" y="471.4" width="6.3" height="1.2" fill="#000"/>
<path d="M153.8 185.0C156.8 186.2 167.3 190.7 171.7 192.2C176.1 193.7 176.4 192.6 180.0 194.2C183.6 195.8 188.9 199.1 193.3 201.7C197.8 204.3 202.2 207.5 206.7 209.7C211.1 211.9 215.8 213.6 220.0 215.0C224.2 216.4 227.8 216.6 231.7 218.0C235.6 219.4 240.1 221.3 243.3 223.3C246.5 225.3 248.0 227.9 250.8 230.0C253.6 232.1 256.2 234.0 260.0 235.8C263.8 237.6 269.4 239.1 273.3 240.8C277.2 242.5 280.5 244.6 283.3 245.8C286.1 247.1 286.1 246.7 290.0 248.3C293.9 249.9 301.7 252.8 306.7 255.3C311.7 257.8 315.6 260.2 320.0 263.3C324.4 266.4 328.9 271.1 333.3 274.2C337.8 277.3 343.2 280.4 346.7 282.0C350.2 283.6 350.9 282.1 354.2 283.7C357.5 285.3 362.4 288.6 366.7 291.7C371.0 294.8 376.7 299.9 380.0 302.0C383.3 304.1 382.5 301.9 386.7 304.2C390.9 306.5 398.3 311.4 405.0 315.8C411.7 320.2 419.8 326.5 426.7 330.8C433.6 335.1 441.1 338.9 446.7 341.7C452.2 344.5 455.3 345.3 460.0 347.5C464.7 349.7 470.3 352.5 475.0 355.0C479.7 357.5 484.1 360.5 488.3 362.5C492.5 364.5 496.4 365.9 500.0 367.0C503.6 368.1 506.7 368.4 510.0 369.2C513.3 370.0 515.7 371.3 520.0 371.7C524.3 372.1 532.2 371.6 536.0 371.7C539.8 371.8 537.7 371.4 542.7 372.0C547.7 372.6 559.1 374.6 566.0 375.3C572.9 376.0 579.0 375.5 584.3 376.3C589.6 377.1 593.1 379.3 597.7 380.3C602.3 381.3 602.3 382.1 612.0 382.5C621.7 382.9 646.6 382.5 656.0 382.5C665.4 382.5 663.2 381.8 668.5 382.5C673.8 383.2 680.1 385.9 687.7 386.7C695.3 387.5 707.6 387.4 714.3 387.5C721.0 387.6 722.7 387.0 727.7 387.5C732.7 388.0 738.2 389.5 744.3 390.3C750.4 391.1 757.9 391.3 764.3 392.5C770.7 393.7 777.1 396.0 782.7 397.5C788.3 399.0 792.8 400.5 797.7 401.7C802.6 402.9 807.0 403.9 812.0 404.7C817.0 405.5 821.5 404.8 827.7 406.7C833.9 408.6 842.5 413.2 849.3 415.8C856.1 418.4 865.3 421.4 868.5 422.5" fill="none" stroke="#1d1da5" stroke-width="1.55" stroke-linejoin="round"/>
<path d="M456.3 128.8C461.1 129.5 478.8 131.7 485.1 133.0C491.4 134.3 485.8 134.9 493.9 136.8C502.0 138.7 523.3 142.2 534.0 144.3C544.7 146.4 552.2 147.9 557.9 149.3C563.5 150.7 564.1 151.6 567.9 152.6C571.7 153.6 575.1 153.6 580.5 155.1C585.9 156.6 593.8 159.4 600.5 161.4C607.2 163.4 612.6 164.8 620.6 167.2C628.6 169.6 639.3 173.0 648.2 175.7C657.1 178.4 665.0 180.4 674.0 183.2C683.0 186.0 693.1 189.8 702.0 192.7C710.9 195.6 721.2 198.9 727.1 200.8C733.0 202.7 732.9 202.5 737.1 204.0C741.3 205.5 748.0 208.3 752.2 209.8C756.4 211.3 757.6 211.1 762.2 212.8C766.8 214.6 775.2 218.6 779.8 220.3C784.4 222.0 782.3 220.1 789.8 222.8C797.3 225.5 817.0 233.7 824.9 236.6C832.8 239.5 830.1 237.8 837.4 240.4C844.7 243.0 863.6 250.4 868.8 252.4" fill="none" stroke="#e8154a" stroke-width="1.55" stroke-linejoin="round"/>
</g>
<rect x="69" y="130" width="214" height="15.5" fill="#fff"/>
<rect x="69" y="145" width="109.5" height="15" fill="#fff"/>
<rect x="69" y="159.5" width="116" height="15" fill="#fff"/>
<rect x="69" y="174" width="85" height="14" fill="#fff"/>
<g stroke="#000" stroke-width="1.1" fill="#000"><line x1="72.4" y1="132.6" x2="72.4" y2="139.5"/><rect x="71.3" y="133.6" width="2.2" height="3.4"/><line x1="76.2" y1="134.2" x2="76.2" y2="142"/><rect x="74.8" y="136" width="2.8" height="4.4"/><line x1="81" y1="132.6" x2="81" y2="141.8"/><rect x="79.3" y="134.2" width="3.4" height="6.2" fill="#fff"/></g>
<text x="87.4" y="141.6" font-size="11.6" text-anchor="start" fill="#000" font-weight="normal" textLength="193.8" lengthAdjust="spacingAndGlyphs">PFIZER.IN (Daily) 4126.50</text>
<line x1="71.2" y1="152" x2="82.8" y2="152" stroke="#1d1da5" stroke-width="1.8"/>
<text x="85.0" y="156.4" font-size="11.6" text-anchor="start" fill="#14149a" font-weight="normal" textLength="92.0" lengthAdjust="spacingAndGlyphs" stroke="#14149a" stroke-width="0.3">MA(50) 4262.75</text>
<line x1="71.2" y1="166.6" x2="82.8" y2="166.6" stroke="#e4072d" stroke-width="1.8"/>
<text x="85.0" y="171.0" font-size="11.6" text-anchor="start" fill="#e4072d" font-weight="normal" textLength="98.3" lengthAdjust="spacingAndGlyphs" stroke="#e4072d" stroke-width="0.3">MA(200) 4785.72</text>
<g fill="#777" stroke="#444" stroke-width="0.7"><rect x="71.2" y="180.6" width="2" height="4.4"/><rect x="74.2" y="177" width="2.2" height="8"/><rect x="77.4" y="178.6" width="2.2" height="6.4"/><rect x="80.6" y="179.6" width="2" height="5.4"/></g>
<text x="85.3" y="184.8" font-size="11.6" text-anchor="start" fill="#3c3c3c" font-weight="normal" textLength="67.5" lengthAdjust="spacingAndGlyphs">Volume 621</text>
<line x1="86.35" y1="518.6" x2="86.35" y2="630" stroke="#e2e2e2" stroke-width="1.3"/>
<line x1="119.72" y1="518.6" x2="119.72" y2="630" stroke="#e2e2e2" stroke-width="1.3"/>
<line x1="153.10" y1="518.6" x2="153.10" y2="630" stroke="#e2e2e2" stroke-width="1.3"/>
<line x1="186.47" y1="518.6" x2="186.47" y2="630" stroke="#e2e2e2" stroke-width="1.3"/>
<line x1="213.18" y1="518.6" x2="213.18" y2="630" stroke="#e2e2e2" stroke-width="1.3"/>
<line x1="246.55" y1="518.6" x2="246.55" y2="630" stroke="#e2e2e2" stroke-width="1.3"/>
<line x1="279.92" y1="518.6" x2="279.92" y2="630" stroke="#e2e2e2" stroke-width="1.3"/>
<line x1="313.30" y1="518.6" x2="313.30" y2="630" stroke="#e2e2e2" stroke-width="1.3"/>
<line x1="346.67" y1="518.6" x2="346.67" y2="630" stroke="#e2e2e2" stroke-width="1.3"/>
<line x1="373.38" y1="518.6" x2="373.38" y2="630" stroke="#e2e2e2" stroke-width="1.3"/>
<line x1="406.75" y1="518.6" x2="406.75" y2="630" stroke="#e2e2e2" stroke-width="1.3"/>
<line x1="433.45" y1="518.6" x2="433.45" y2="630" stroke="#e2e2e2" stroke-width="1.3"/>
<line x1="466.82" y1="518.6" x2="466.82" y2="630" stroke="#e2e2e2" stroke-width="1.3"/>
<line x1="500.20" y1="518.6" x2="500.20" y2="630" stroke="#e2e2e2" stroke-width="1.3"/>
<line x1="533.57" y1="518.6" x2="533.57" y2="630" stroke="#e2e2e2" stroke-width="1.3"/>
<line x1="553.60" y1="518.6" x2="553.60" y2="630" stroke="#e2e2e2" stroke-width="1.3"/>
<line x1="586.98" y1="518.6" x2="586.98" y2="630" stroke="#e2e2e2" stroke-width="1.3"/>
<line x1="647.05" y1="518.6" x2="647.05" y2="630" stroke="#e2e2e2" stroke-width="1.3"/>
<line x1="680.42" y1="518.6" x2="680.42" y2="630" stroke="#e2e2e2" stroke-width="1.3"/>
<line x1="713.80" y1="518.6" x2="713.80" y2="630" stroke="#e2e2e2" stroke-width="1.3"/>
<line x1="747.17" y1="518.6" x2="747.17" y2="630" stroke="#e2e2e2" stroke-width="1.3"/>
<line x1="780.55" y1="518.6" x2="780.55" y2="630" stroke="#e2e2e2" stroke-width="1.3"/>
<line x1="813.92" y1="518.6" x2="813.92" y2="630" stroke="#e2e2e2" stroke-width="1.3"/>
<line x1="847.30" y1="518.6" x2="847.30" y2="630" stroke="#e2e2e2" stroke-width="1.3"/>
<line x1="219.85" y1="518.6" x2="219.85" y2="630" stroke="#c2c2c2" stroke-width="1.5"/>
<line x1="353.35" y1="518.6" x2="353.35" y2="630" stroke="#c2c2c2" stroke-width="1.5"/>
<line x1="493.52" y1="518.6" x2="493.52" y2="630" stroke="#c2c2c2" stroke-width="1.5"/>
<line x1="620.35" y1="518.6" x2="620.35" y2="630" stroke="#c2c2c2" stroke-width="1.5"/>
<line x1="760.52" y1="518.6" x2="760.52" y2="630" stroke="#c2c2c2" stroke-width="1.5"/>
<line x1="67.7" y1="533.2" x2="878.3" y2="533.2" stroke="#e2e2e2" stroke-width="1.2"/>
<line x1="67.7" y1="550" x2="878.3" y2="550" stroke="#e2e2e2" stroke-width="1.2"/>
<line x1="67.7" y1="566.8" x2="878.3" y2="566.8" stroke="#e2e2e2" stroke-width="1.2"/>
<line x1="67.7" y1="583.6" x2="878.3" y2="583.6" stroke="#e2e2e2" stroke-width="1.2"/>
<line x1="67.7" y1="600.7" x2="878.3" y2="600.7" stroke="#e2e2e2" stroke-width="1.2"/>
<line x1="67.7" y1="617.5" x2="878.3" y2="617.5" stroke="#e2e2e2" stroke-width="1.2"/>
<g clip-path="url(#cd)">
<rect x="63.58" y="535.8" width="6.68" height="14.2" fill="#33a5d3" stroke="#17739c" stroke-width="1.1"/>
<rect x="70.26" y="535.8" width="6.68" height="14.2" fill="#33a5d3" stroke="#17739c" stroke-width="1.1"/>
<rect x="76.93" y="537.0" width="6.68" height="13.0" fill="#33a5d3" stroke="#17739c" stroke-width="1.1"/>
<rect x="83.61" y="535.8" width="6.68" height="14.2" fill="#33a5d3" stroke="#17739c" stroke-width="1.1"/>
<rect x="90.28" y="537.0" width="6.68" height="13.0" fill="#33a5d3" stroke="#17739c" stroke-width="1.1"/>
<rect x="96.96" y="538.7" width="6.68" height="11.3" fill="#33a5d3" stroke="#17739c" stroke-width="1.1"/>
<rect x="103.63" y="542.5" width="6.68" height="7.5" fill="#33a5d3" stroke="#17739c" stroke-width="1.1"/>
<rect x="110.31" y="547.5" width="6.68" height="2.5" fill="#33a5d3" stroke="#17739c" stroke-width="1.1"/>
<rect x="116.98" y="550.0" width="6.68" height="3.3" fill="#33a5d3" stroke="#17739c" stroke-width="1.1"/>
<rect x="123.66" y="550.0" width="6.68" height="5.8" fill="#33a5d3" stroke="#17739c" stroke-width="1.1"/>
<rect x="130.33" y="550.0" width="6.68" height="10.3" fill="#33a5d3" stroke="#17739c" stroke-width="1.1"/>
<rect x="137.01" y="550.0" width="6.68" height="8.3" fill="#33a5d3" stroke="#17739c" stroke-width="1.1"/>
<rect x="143.68" y="550.0" width="6.68" height="8.3" fill="#33a5d3" stroke="#17739c" stroke-width="1.1"/>
<rect x="150.36" y="550.0" width="6.68" height="9.7" fill="#33a5d3" stroke="#17739c" stroke-width="1.1"/>
<rect x="157.03" y="550.0" width="6.68" height="11.3" fill="#33a5d3" stroke="#17739c" stroke-width="1.1"/>
<rect x="163.71" y="550.0" width="6.68" height="15.0" fill="#33a5d3" stroke="#17739c" stroke-width="1.1"/>
<rect x="170.38" y="550.0" width="6.68" height="16.7" fill="#33a5d3" stroke="#17739c" stroke-width="1.1"/>
<rect x="177.06" y="550.0" width="6.68" height="16.7" fill="#33a5d3" stroke="#17739c" stroke-width="1.1"/>
<rect x="183.73" y="550.0" width="6.68" height="20.3" fill="#33a5d3" stroke="#17739c" stroke-width="1.1"/>
<rect x="190.41" y="550.0" width="6.68" height="25.8" fill="#33a5d3" stroke="#17739c" stroke-width="1.1"/>
<rect x="197.08" y="550.0" width="6.68" height="31.7" fill="#33a5d3" stroke="#17739c" stroke-width="1.1"/>
<rect x="203.76" y="550.0" width="6.68" height="31.0" fill="#33a5d3" stroke="#17739c" stroke-width="1.1"/>
<rect x="210.44" y="550.0" width="6.68" height="27.0" fill="#33a5d3" stroke="#17739c" stroke-width="1.1"/>
<rect x="217.11" y="550.0" width="6.68" height="22.5" fill="#33a5d3" stroke="#17739c" stroke-width="1.1"/>
<rect x="223.78" y="550.0" width="6.68" height="13.0" fill="#33a5d3" stroke="#17739c" stroke-width="1.1"/>
<rect x="230.46" y="550.0" width="6.68" height="9.0" fill="#33a5d3" stroke="#17739c" stroke-width="1.1"/>
<rect x="237.13" y="550.0" width="6.68" height="8.3" fill="#33a5d3" stroke="#17739c" stroke-width="1.1"/>
<rect x="243.81" y="550.0" width="6.68" height="11.3" fill="#33a5d3" stroke="#17739c" stroke-width="1.1"/>
<rect x="250.48" y="550.0" width="6.68" height="4.7" fill="#33a5d3" stroke="#17739c" stroke-width="1.1"/>
<rect x="257.16" y="549.7" width="6.68" height="0.8" fill="#33a5d3" stroke="#17739c" stroke-width="1.1"/>
<rect x="263.84" y="546.7" width="6.68" height="3.3" fill="#33a5d3" stroke="#17739c" stroke-width="1.1"/>
<rect x="270.51" y="548.0" width="6.68" height="2.0" fill="#33a5d3" stroke="#17739c" stroke-width="1.1"/>
<rect x="277.19" y="550.0" width="6.68" height="5.0" fill="#33a5d3" stroke="#17739c" stroke-width="1.1"/>
<rect x="283.86" y="550.0" width="6.68" height="3.0" fill="#33a5d3" stroke="#17739c" stroke-width="1.1"/>
<rect x="290.54" y="550.0" width="6.68" height="0.8" fill="#33a5d3" stroke="#17739c" stroke-width="1.1"/>
<rect x="297.21" y="550.0" width="6.68" height="0.8" fill="#33a5d3" stroke="#17739c" stroke-width="1.1"/>
<rect x="303.89" y="550.0" width="6.68" height="1.7" fill="#33a5d3" stroke="#17739c" stroke-width="1.1"/>
<rect x="310.56" y="550.0" width="6.68" height="3.0" fill="#33a5d3" stroke="#17739c" stroke-width="1.1"/>
<rect x="317.24" y="550.0" width="6.68" height="7.5" fill="#33a5d3" stroke="#17739c" stroke-width="1.1"/>
<rect x="323.91" y="550.0" width="6.68" height="4.7" fill="#33a5d3" stroke="#17739c" stroke-width="1.1"/>
<rect x="330.59" y="550.0" width="6.68" height="6.3" fill="#33a5d3" stroke="#17739c" stroke-width="1.1"/>
<rect x="337.26" y="548.8" width="6.68" height="1.2" fill="#33a5d3" stroke="#17739c" stroke-width="1.1"/>
<rect x="343.94" y="541.3" width="6.68" height="8.7" fill="#33a5d3" stroke="#17739c" stroke-width="1.1"/>
<rect x="350.61" y="537.0" width="6.68" height="13.0" fill="#33a5d3" stroke="#17739c" stroke-width="1.1"/>
<rect x="357.29" y="538.3" width="6.68" height="11.7" fill="#33a5d3" stroke="#17739c" stroke-width="1.1"/>
<rect x="363.96" y="537.0" width="6.68" height="13.0" fill="#33a5d3" stroke="#17739c" stroke-width="1.1"/>
<rect x="370.64" y="540.0" width="6.68" height="10.0" fill="#33a5d3" stroke="#17739c" stroke-width="1.1"/>
<rect x="377.31" y="535.0" width="6.68" height="15.0" fill="#33a5d3" stroke="#17739c" stroke-width="1.1"/>
<rect x="383.99" y="532.5" width="6.68" height="17.5" fill="#33a5d3" stroke="#17739c" stroke-width="1.1"/>
<rect x="390.66" y="530.5" width="6.68" height="19.5" fill="#33a5d3" stroke="#17739c" stroke-width="1.1"/>
<rect x="397.33" y="527.5" width="6.68" height="22.5" fill="#33a5d3" stroke="#17739c" stroke-width="1.1"/>
<rect x="404.01" y="531.7" width="6.68" height="18.3" fill="#33a5d3" stroke="#17739c" stroke-width="1.1"/>
<rect x="410.69" y="533.0" width="6.68" height="17.0" fill="#33a5d3" stroke="#17739c" stroke-width="1.1"/>
<rect x="417.36" y="537.0" width="6.68" height="13.0" fill="#33a5d3" stroke="#17739c" stroke-width="1.1"/>
<rect x="424.04" y="537.0" width="6.68" height="13.0" fill="#33a5d3" stroke="#17739c" stroke-width="1.1"/>
<rect x="430.71" y="533.0" width="6.68" height="17.0" fill="#33a5d3" stroke="#17739c" stroke-width="1.1"/>
<rect x="437.39" y="534.2" width="6.68" height="15.8" fill="#33a5d3" stroke="#17739c" stroke-width="1.1"/>
<rect x="444.06" y="534.2" width="6.68" height="15.8" fill="#33a5d3" stroke="#17739c" stroke-width="1.1"/>
<rect x="450.74" y="534.2" width="6.68" height="15.8" fill="#33a5d3" stroke="#17739c" stroke-width="1.1"/>
<rect x="457.41" y="538.3" width="6.68" height="11.7" fill="#33a5d3" stroke="#17739c" stroke-width="1.1"/>
<rect x="464.08" y="544.2" width="6.68" height="5.8" fill="#33a5d3" stroke="#17739c" stroke-width="1.1"/>
<rect x="470.76" y="544.2" width="6.68" height="5.8" fill="#33a5d3" stroke="#17739c" stroke-width="1.1"/>
<rect x="477.44" y="546.3" width="6.68" height="3.7" fill="#33a5d3" stroke="#17739c" stroke-width="1.1"/>
<rect x="484.11" y="548.8" width="6.68" height="1.2" fill="#33a5d3" stroke="#17739c" stroke-width="1.1"/>
<rect x="490.79" y="550.0" width="6.68" height="1.2" fill="#33a5d3" stroke="#17739c" stroke-width="1.1"/>
<rect x="497.46" y="547.5" width="6.68" height="2.5" fill="#33a5d3" stroke="#17739c" stroke-width="1.1"/>
<rect x="504.14" y="543.7" width="6.68" height="6.3" fill="#33a5d3" stroke="#17739c" stroke-width="1.1"/>
<rect x="510.81" y="542.2" width="6.68" height="7.8" fill="#33a5d3" stroke="#17739c" stroke-width="1.1"/>
<rect x="517.49" y="540.8" width="6.68" height="9.2" fill="#33a5d3" stroke="#17739c" stroke-width="1.1"/>
<rect x="524.16" y="540.8" width="6.68" height="9.2" fill="#33a5d3" stroke="#17739c" stroke-width="1.1"/>
<rect x="530.83" y="540.8" width="6.68" height="9.2" fill="#33a5d3" stroke="#17739c" stroke-width="1.1"/>
<rect x="537.51" y="545.8" width="6.68" height="4.2" fill="#33a5d3" stroke="#17739c" stroke-width="1.1"/>
<rect x="544.18" y="547.5" width="6.68" height="2.5" fill="#33a5d3" stroke="#17739c" stroke-width="1.1"/>
<rect x="550.86" y="547.5" width="6.68" height="2.5" fill="#33a5d3" stroke="#17739c" stroke-width="1.1"/>
<rect x="557.53" y="548.0" width="6.68" height="2.0" fill="#33a5d3" stroke="#17739c" stroke-width="1.1"/>
<rect x="564.21" y="548.0" width="6.68" height="2.0" fill="#33a5d3" stroke="#17739c" stroke-width="1.1"/>
<rect x="570.88" y="548.5" width="6.68" height="1.5" fill="#33a5d3" stroke="#17739c" stroke-width="1.1"/>
<rect x="577.56" y="550.0" width="6.68" height="3.7" fill="#33a5d3" stroke="#17739c" stroke-width="1.1"/>
<rect x="584.24" y="550.0" width="6.68" height="7.5" fill="#33a5d3" stroke="#17739c" stroke-width="1.1"/>
<rect x="590.91" y="550.0" width="6.68" height="12.5" fill="#33a5d3" stroke="#17739c" stroke-width="1.1"/>
<rect x="597.59" y="550.0" width="6.68" height="15.8" fill="#33a5d3" stroke="#17739c" stroke-width="1.1"/>
<rect x="604.26" y="550.0" width="6.68" height="13.7" fill="#33a5d3" stroke="#17739c" stroke-width="1.1"/>
<rect x="610.93" y="550.0" width="6.68" height="10.0" fill="#33a5d3" stroke="#17739c" stroke-width="1.1"/>
<rect x="617.61" y="550.0" width="6.68" height="7.5" fill="#33a5d3" stroke="#17739c" stroke-width="1.1"/>
<rect x="624.28" y="550.0" width="6.68" height="5.0" fill="#33a5d3" stroke="#17739c" stroke-width="1.1"/>
<rect x="630.96" y="550.0" width="6.68" height="1.7" fill="#33a5d3" stroke="#17739c" stroke-width="1.1"/>
<rect x="637.63" y="550.0" width="6.68" height="3.0" fill="#33a5d3" stroke="#17739c" stroke-width="1.1"/>
<rect x="644.31" y="550.0" width="6.68" height="6.3" fill="#33a5d3" stroke="#17739c" stroke-width="1.1"/>
<rect x="650.99" y="550.0" width="6.68" height="8.7" fill="#33a5d3" stroke="#17739c" stroke-width="1.1"/>
<rect x="657.66" y="550.0" width="6.68" height="10.0" fill="#33a5d3" stroke="#17739c" stroke-width="1.1"/>
<rect x="664.34" y="550.0" width="6.68" height="10.0" fill="#33a5d3" stroke="#17739c" stroke-width="1.1"/>
<rect x="671.01" y="550.0" width="6.68" height="7.5" fill="#33a5d3" stroke="#17739c" stroke-width="1.1"/>
<rect x="677.68" y="550.0" width="6.68" height="7.5" fill="#33a5d3" stroke="#17739c" stroke-width="1.1"/>
<rect x="684.36" y="550.0" width="6.68" height="5.8" fill="#33a5d3" stroke="#17739c" stroke-width="1.1"/>
<rect x="691.03" y="550.0" width="6.68" height="1.7" fill="#33a5d3" stroke="#17739c" stroke-width="1.1"/>
<rect x="697.71" y="550.0" width="6.68" height="0.8" fill="#33a5d3" stroke="#17739c" stroke-width="1.1"/>
<rect x="704.38" y="545.3" width="6.68" height="4.7" fill="#33a5d3" stroke="#17739c" stroke-width="1.1"/>
<rect x="711.06" y="540.0" width="6.68" height="10.0" fill="#33a5d3" stroke="#17739c" stroke-width="1.1"/>
<rect x="717.74" y="542.5" width="6.68" height="7.5" fill="#33a5d3" stroke="#17739c" stroke-width="1.1"/>
<rect x="724.41" y="544.2" width="6.68" height="5.8" fill="#33a5d3" stroke="#17739c" stroke-width="1.1"/>
<rect x="731.09" y="546.7" width="6.68" height="3.3" fill="#33a5d3" stroke="#17739c" stroke-width="1.1"/>
<rect x="737.76" y="547.0" width="6.68" height="3.0" fill="#33a5d3" stroke="#17739c" stroke-width="1.1"/>
<rect x="744.43" y="547.0" width="6.68" height="3.0" fill="#33a5d3" stroke="#17739c" stroke-width="1.1"/>
<rect x="751.11" y="545.3" width="6.68" height="4.7" fill="#33a5d3" stroke="#17739c" stroke-width="1.1"/>
<rect x="757.78" y="546.7" width="6.68" height="3.3" fill="#33a5d3" stroke="#17739c" stroke-width="1.1"/>
<rect x="764.46" y="548.3" width="6.68" height="1.7" fill="#33a5d3" stroke="#17739c" stroke-width="1.1"/>
<rect x="771.13" y="550.0" width="6.68" height="1.7" fill="#33a5d3" stroke="#17739c" stroke-width="1.1"/>
<rect x="777.81" y="550.0" width="6.68" height="3.0" fill="#33a5d3" stroke="#17739c" stroke-width="1.1"/>
<rect x="784.49" y="550.0" width="6.68" height="5.8" fill="#33a5d3" stroke="#17739c" stroke-width="1.1"/>
<rect x="791.16" y="550.0" width="6.68" height="10.0" fill="#33a5d3" stroke="#17739c" stroke-width="1.1"/>
<rect x="797.84" y="550.0" width="6.68" height="8.3" fill="#33a5d3" stroke="#17739c" stroke-width="1.1"/>
<rect x="804.51" y="550.0" width="6.68" height="8.3" fill="#33a5d3" stroke="#17739c" stroke-width="1.1"/>
<rect x="811.18" y="550.0" width="6.68" height="7.5" fill="#33a5d3" stroke="#17739c" stroke-width="1.1"/>
<rect x="817.86" y="550.0" width="6.68" height="6.7" fill="#33a5d3" stroke="#17739c" stroke-width="1.1"/>
<rect x="824.53" y="550.0" width="6.68" height="5.3" fill="#33a5d3" stroke="#17739c" stroke-width="1.1"/>
<rect x="831.21" y="550.0" width="6.68" height="4.0" fill="#33a5d3" stroke="#17739c" stroke-width="1.1"/>
<rect x="837.88" y="550.0" width="6.68" height="3.2" fill="#33a5d3" stroke="#17739c" stroke-width="1.1"/>
<rect x="844.56" y="550.0" width="6.68" height="4.7" fill="#33a5d3" stroke="#17739c" stroke-width="1.1"/>
<rect x="851.24" y="550.0" width="6.68" height="4.7" fill="#33a5d3" stroke="#17739c" stroke-width="1.1"/>
<rect x="857.91" y="550.0" width="6.68" height="3.2" fill="#33a5d3" stroke="#17739c" stroke-width="1.1"/>
<rect x="864.59" y="550.0" width="6.68" height="1.6" fill="#33a5d3" stroke="#17739c" stroke-width="1.1"/>
<line x1="871.325" y1="550.4" x2="872" y2="550.4" stroke="#1b7ba6" stroke-width="1"/>
</g>
<rect x="69" y="520" width="326" height="15" fill="#fff"/>
<g clip-path="url(#cd)">
<polyline points="67.5,572.5 76.7,567.5 86.7,562.5 93.3,558.3 100.0,555.8 106.7,554.2 113.3,553.3 120.0,554.7 126.7,556.3 133.3,558.7 140.0,560.8 146.7,563.7 153.3,566.7 160.0,569.2 166.7,572.5 173.3,575.8 180.0,580.0 186.7,585.8 193.3,593.3 200.0,600.8 208.0,608.3 217.0,615.5 226.7,620.8 236.7,624.2 250.0,629.2 255.0,630.5 262.0,628.5 273.3,625.8 283.3,627.5 296.7,628.7 310.0,629.8 316.0,634.0 330.0,640.0 350.0,634.0 355.0,630.0 360.0,625.8 366.7,621.7 373.3,620.0 386.7,611.7 400.0,601.7 413.3,591.7 426.7,587.0 440.0,578.3 447.5,574.7 460.0,566.7 466.7,565.3 480.0,563.3 493.3,562.5 501.7,562.5 510.0,560.0 516.0,557.5 520.0,555.8 531.7,551.7 546.7,549.2 560.0,548.7 574.2,546.7 581.7,547.5 590.0,550.0 603.3,556.7 613.3,560.0 626.7,563.7 635.0,564.7 643.3,565.8 653.3,568.7 666.0,573.3 670.0,573.7 680.0,575.8 690.0,577.5 701.7,577.5 715.0,573.3 728.3,570.3 741.7,568.0 750.0,567.5 760.0,565.3 768.3,564.2 775.0,565.0 783.3,565.3 793.3,568.7 803.3,571.7 813.0,574.3 827.5,576.8 841.9,578.8 854.3,580.0 868.7,581.5" fill="none" stroke="#f21a1a" stroke-width="1.5" stroke-linejoin="round"/>
<polyline points="67.5,555.8 76.7,553.3 86.7,548.0 93.3,546.3 100.0,545.3 106.7,546.7 113.3,551.7 120.0,557.5 126.7,561.7 133.3,568.0 140.0,569.7 146.7,571.3 153.3,574.2 160.0,580.0 166.7,585.8 173.3,590.8 180.0,595.0 186.7,605.0 193.3,616.7 200.0,629.2 203.0,636.0 230.0,660.0 251.0,636.0 255.0,629.2 261.0,625.5 268.3,623.7 274.2,624.2 278.3,629.2 281.0,633.0 287.0,631.0 290.0,629.7 303.0,629.7 307.0,632.0 320.0,645.0 338.0,636.0 341.7,630.0 348.3,621.7 355.0,614.2 360.0,612.0 366.7,609.2 373.3,609.7 380.0,602.0 386.7,594.2 393.3,587.0 400.0,580.0 406.7,578.3 413.3,574.7 420.0,575.8 426.7,573.3 434.2,565.0 440.8,561.3 447.5,558.3 454.2,554.7 460.8,556.3 467.5,558.3 474.2,557.2 480.8,558.7 487.5,560.8 494.2,562.0 500.8,560.0 507.5,554.7 510.0,553.3 516.7,548.3 523.3,544.7 533.3,542.5 540.0,546.3 546.7,548.0 553.3,546.7 560.0,545.3 566.7,545.3 574.2,543.7 580.8,550.0 587.5,556.7 594.2,563.0 600.8,570.3 607.5,570.3 614.2,568.0 620.8,569.2 627.5,568.0 634.2,565.0 640.8,568.7 647.5,572.5 654.2,576.3 660.8,580.3 667.5,582.5 674.2,581.3 680.8,583.7 687.5,582.5 694.2,579.2 700.8,577.5 707.5,570.8 714.2,563.0 720.8,564.2 727.5,563.0 734.2,565.0 741.7,564.2 748.3,563.7 755.0,561.3 761.7,561.3 768.3,563.0 775.0,566.7 781.7,568.7 788.3,572.5 795.0,578.3 801.7,579.7 808.3,580.0 815.0,581.0 833.7,581.0 844.0,582.5 855.3,584.0 862.5,582.5 868.7,581.5" fill="none" stroke="#0a0a0a" stroke-width="2.3" stroke-linejoin="round"/>
</g>
<line x1="71" y1="527.6" x2="83" y2="527.6" stroke="#000" stroke-width="2.6"/>
<text x="88.2" y="532.0" font-size="11.6" text-anchor="start" fill="#000" font-weight="normal" textLength="175.6" lengthAdjust="spacingAndGlyphs">MACD(12,26,9) -45.856</text>
<text x="265.0" y="532.0" font-size="11.6" text-anchor="start" fill="#f21a1a" font-weight="normal" textLength="67.5" lengthAdjust="spacingAndGlyphs">, -45.377</text>
<text x="335.5" y="532.0" font-size="11.6" text-anchor="start" fill="#1f9ad6" font-weight="normal" textLength="58.3" lengthAdjust="spacingAndGlyphs">, -0.479</text>
<g stroke="#a6a6a6" stroke-width="1.4" fill="none">
<line x1="67.7" y1="0" x2="67.7" y2="500.4"/><line x1="878.3" y1="0" x2="878.3" y2="500.4"/>
<line x1="67.7" y1="128.8" x2="878.3" y2="128.8"/>
<line x1="67.7" y1="500" x2="878.3" y2="500"/>
<line x1="67.7" y1="518.6" x2="878.3" y2="518.6"/>
<line x1="67.7" y1="518" x2="67.7" y2="630"/><line x1="878.3" y1="518" x2="878.3" y2="630"/>
</g>
<path d="M73.00 500.4V502.4M73.00 516.4V518.2 M79.67 500.4V502.4M79.67 516.4V518.2 M86.35 500.4V502.4M86.35 516.4V518.2 M93.02 500.4V502.4M93.02 516.4V518.2 M99.70 500.4V502.4M99.70 516.4V518.2 M106.38 500.4V502.4M106.38 516.4V518.2 M113.05 500.4V502.4M113.05 516.4V518.2 M119.72 500.4V502.4M119.72 516.4V518.2 M126.40 500.4V502.4M126.40 516.4V518.2 M133.07 500.4V502.4M133.07 516.4V518.2 M139.75 500.4V502.4M139.75 516.4V518.2 M146.42 500.4V502.4M146.42 516.4V518.2 M153.10 500.4V502.4M153.10 516.4V518.2 M159.77 500.4V502.4M159.77 516.4V518.2 M166.45 500.4V502.4M166.45 516.4V518.2 M173.12 500.4V502.4M173.12 516.4V518.2 M179.80 500.4V502.4M179.80 516.4V518.2 M186.47 500.4V502.4M186.47 516.4V518.2 M193.15 500.4V502.4M193.15 516.4V518.2 M199.82 500.4V502.4M199.82 516.4V518.2 M206.50 500.4V502.4M206.50 516.4V518.2 M213.18 500.4V502.4M213.18 516.4V518.2 M219.85 500.4V502.4M219.85 516.4V518.2 M226.52 500.4V502.4M226.52 516.4V518.2 M233.20 500.4V502.4M233.20 516.4V518.2 M239.88 500.4V502.4M239.88 516.4V518.2 M246.55 500.4V502.4M246.55 516.4V518.2 M253.22 500.4V502.4M253.22 516.4V518.2 M259.90 500.4V502.4M259.90 516.4V518.2 M266.57 500.4V502.4M266.57 516.4V518.2 M273.25 500.4V502.4M273.25 516.4V518.2 M279.92 500.4V502.4M279.92 516.4V518.2 M286.60 500.4V502.4M286.60 516.4V518.2 M293.27 500.4V502.4M293.27 516.4V518.2 M299.95 500.4V502.4M299.95 516.4V518.2 M306.62 500.4V502.4M306.62 516.4V518.2 M313.30 500.4V502.4M313.30 516.4V518.2 M319.98 500.4V502.4M319.98 516.4V518.2 M326.65 500.4V502.4M326.65 516.4V518.2 M333.32 500.4V502.4M333.32 516.4V518.2 M340.00 500.4V502.4M340.00 516.4V518.2 M346.67 500.4V502.4M346.67 516.4V518.2 M353.35 500.4V502.4M353.35 516.4V518.2 M360.02 500.4V502.4M360.02 516.4V518.2 M366.70 500.4V502.4M366.70 516.4V518.2 M373.38 500.4V502.4M373.38 516.4V518.2 M380.05 500.4V502.4M380.05 516.4V518.2 M386.73 500.4V502.4M386.73 516.4V518.2 M393.40 500.4V502.4M393.40 516.4V518.2 M400.07 500.4V502.4M400.07 516.4V518.2 M406.75 500.4V502.4M406.75 516.4V518.2 M413.42 500.4V502.4M413.42 516.4V518.2 M420.10 500.4V502.4M420.10 516.4V518.2 M426.77 500.4V502.4M426.77 516.4V518.2 M433.45 500.4V502.4M433.45 516.4V518.2 M440.12 500.4V502.4M440.12 516.4V518.2 M446.80 500.4V502.4M446.80 516.4V518.2 M453.48 500.4V502.4M453.48 516.4V518.2 M460.15 500.4V502.4M460.15 516.4V518.2 M466.82 500.4V502.4M466.82 516.4V518.2 M473.50 500.4V502.4M473.50 516.4V518.2 M480.17 500.4V502.4M480.17 516.4V518.2 M486.85 500.4V502.4M486.85 516.4V518.2 M493.52 500.4V502.4M493.52 516.4V518.2 M500.20 500.4V502.4M500.20 516.4V518.2 M506.88 500.4V502.4M506.88 516.4V518.2 M513.55 500.4V502.4M513.55 516.4V518.2 M520.23 500.4V502.4M520.23 516.4V518.2 M526.90 500.4V502.4M526.90 516.4V518.2 M533.57 500.4V502.4M533.57 516.4V518.2 M540.25 500.4V502.4M540.25 516.4V518.2 M546.92 500.4V502.4M546.92 516.4V518.2 M553.60 500.4V502.4M553.60 516.4V518.2 M560.27 500.4V502.4M560.27 516.4V518.2 M566.95 500.4V502.4M566.95 516.4V518.2 M573.62 500.4V502.4M573.62 516.4V518.2 M580.30 500.4V502.4M580.30 516.4V518.2 M586.98 500.4V502.4M586.98 516.4V518.2 M593.65 500.4V502.4M593.65 516.4V518.2 M600.33 500.4V502.4M600.33 516.4V518.2 M607.00 500.4V502.4M607.00 516.4V518.2 M613.67 500.4V502.4M613.67 516.4V518.2 M620.35 500.4V502.4M620.35 516.4V518.2 M627.02 500.4V502.4M627.02 516.4V518.2 M633.70 500.4V502.4M633.70 516.4V518.2 M640.38 500.4V502.4M640.38 516.4V518.2 M647.05 500.4V502.4M647.05 516.4V518.2 M653.73 500.4V502.4M653.73 516.4V518.2 M660.40 500.4V502.4M660.40 516.4V518.2 M667.08 500.4V502.4M667.08 516.4V518.2 M673.75 500.4V502.4M673.75 516.4V518.2 M680.42 500.4V502.4M680.42 516.4V518.2 M687.10 500.4V502.4M687.10 516.4V518.2 M693.77 500.4V502.4M693.77 516.4V518.2 M700.45 500.4V502.4M700.45 516.4V518.2 M707.12 500.4V502.4M707.12 516.4V518.2 M713.80 500.4V502.4M713.80 516.4V518.2 M720.48 500.4V502.4M720.48 516.4V518.2 M727.15 500.4V502.4M727.15 516.4V518.2 M733.83 500.4V502.4M733.83 516.4V518.2 M740.50 500.4V502.4M740.50 516.4V518.2 M747.17 500.4V502.4M747.17 516.4V518.2 M753.85 500.4V502.4M753.85 516.4V518.2 M760.52 500.4V502.4M760.52 516.4V518.2 M767.20 500.4V502.4M767.20 516.4V518.2 M773.88 500.4V502.4M773.88 516.4V518.2 M780.55 500.4V502.4M780.55 516.4V518.2 M787.23 500.4V502.4M787.23 516.4V518.2 M793.90 500.4V502.4M793.90 516.4V518.2 M800.58 500.4V502.4M800.58 516.4V518.2 M807.25 500.4V502.4M807.25 516.4V518.2 M813.92 500.4V502.4M813.92 516.4V518.2 M820.60 500.4V502.4M820.60 516.4V518.2 M827.27 500.4V502.4M827.27 516.4V518.2 M833.95 500.4V502.4M833.95 516.4V518.2 M840.62 500.4V502.4M840.62 516.4V518.2 M847.30 500.4V502.4M847.30 516.4V518.2 M853.98 500.4V502.4M853.98 516.4V518.2 M860.65 500.4V502.4M860.65 516.4V518.2 M867.33 500.4V502.4M867.33 516.4V518.2" stroke="#aaa" stroke-width="1"/>
<path d="M878.3 494.4h1.8 M878.3 487.1h1.8 M878.3 480.0h3.2 M878.3 472.8h1.8 M878.3 465.7h1.8 M878.3 458.6h1.8 M878.3 451.5h1.8 M878.3 444.5h3.2 M878.3 437.5h1.8 M878.3 430.6h1.8 M878.3 423.6h1.8 M878.3 416.7h1.8 M878.3 409.9h3.2 M878.3 403.1h1.8 M878.3 396.3h1.8 M878.3 389.5h1.8 M878.3 382.8h1.8 M878.3 376.1h3.2 M878.3 369.4h1.8 M878.3 362.8h1.8 M878.3 356.1h1.8 M878.3 349.6h1.8 M878.3 343.0h3.2 M878.3 336.5h1.8 M878.3 330.0h1.8 M878.3 323.5h1.8 M878.3 317.1h1.8 M878.3 310.7h3.2 M878.3 304.3h1.8 M878.3 297.9h1.8 M878.3 291.6h1.8 M878.3 285.3h1.8 M878.3 279.0h3.2 M878.3 272.8h1.8 M878.3 266.6h1.8 M878.3 260.4h1.8 M878.3 254.2h1.8 M878.3 248.1h3.2 M878.3 242.0h1.8 M878.3 235.9h1.8 M878.3 229.8h1.8 M878.3 223.8h1.8 M878.3 217.7h3.2 M878.3 211.8h1.8 M878.3 205.8h1.8 M878.3 199.8h1.8 M878.3 193.9h1.8 M878.3 188.0h3.2 M878.3 182.2h1.8 M878.3 176.3h1.8 M878.3 170.5h1.8 M878.3 164.7h1.8 M878.3 158.9h3.2 M878.3 153.1h1.8 M878.3 147.4h1.8 M878.3 141.7h1.8 M878.3 136.0h1.8 M878.3 121.4h3.2 M878.3 115.7h1.8 M878.3 110.0h3.2 M878.3 104.3h1.8 M878.3 98.6h3.2 M878.3 92.9h1.8 M878.3 87.2h3.2 M878.3 81.5h1.8 M878.3 75.8h3.2 M878.3 70.1h1.8 M878.3 64.4h3.2 M878.3 58.7h1.8 M878.3 53.0h3.2 M878.3 47.3h1.8 M878.3 41.6h3.2 M878.3 35.9h1.8 M878.3 30.2h3.2 M878.3 24.5h1.8 M878.3 18.8h3.2 M878.3 13.1h1.8 M878.3 7.4h3.2 M878.3 627.3h1.8 M878.3 623.9h1.8 M878.3 620.6h1.8 M878.3 617.2h3.2 M878.3 613.8h1.8 M878.3 610.5h1.8 M878.3 607.1h1.8 M878.3 603.8h1.8 M878.3 600.4h3.2 M878.3 597.0h1.8 M878.3 593.7h1.8 M878.3 590.3h1.8 M878.3 587.0h1.8 M878.3 583.6h3.2 M878.3 580.2h1.8 M878.3 576.9h1.8 M878.3 573.5h1.8 M878.3 570.2h1.8 M878.3 566.8h3.2 M878.3 563.4h1.8 M878.3 560.1h1.8 M878.3 556.7h1.8 M878.3 553.4h1.8 M878.3 550.0h3.2 M878.3 546.6h1.8 M878.3 543.3h1.8 M878.3 539.9h1.8 M878.3 536.6h1.8 M878.3 533.2h3.2 M878.3 529.8h1.8 M878.3 526.5h1.8 M878.3 523.1h1.8" stroke="#aaa" stroke-width="1"/>
<path d="M67.7 382.3h-3 M67.7 405.4h-3 M67.7 428.4h-3 M67.7 451.6h-3 M67.7 474.6h-3" stroke="#aaa" stroke-width="1"/>
<text x="882.2" y="22.6" font-size="12.2" text-anchor="start" fill="#000" font-weight="normal" textLength="15.4" lengthAdjust="spacingAndGlyphs">90</text>
<text x="882.2" y="44.4" font-size="12.2" text-anchor="start" fill="#000" font-weight="normal" textLength="15.4" lengthAdjust="spacingAndGlyphs">70</text>
<text x="882.2" y="67.0" font-size="12.2" text-anchor="start" fill="#000" font-weight="normal" textLength="15.4" lengthAdjust="spacingAndGlyphs">50</text>
<text x="882.2" y="89.9" font-size="12.2" text-anchor="start" fill="#000" font-weight="normal" textLength="15.4" lengthAdjust="spacingAndGlyphs">30</text>
<text x="882.2" y="112.6" font-size="12.2" text-anchor="start" fill="#000" font-weight="normal" textLength="15.4" lengthAdjust="spacingAndGlyphs">10</text>
<text x="882.2" y="162.1" font-size="12.2" text-anchor="start" fill="#000" font-weight="normal" textLength="31.0" lengthAdjust="spacingAndGlyphs">5100</text>
<text x="882.2" y="190.6" font-size="12.2" text-anchor="start" fill="#000" font-weight="normal" textLength="31.0" lengthAdjust="spacingAndGlyphs">5000</text>
<text x="882.2" y="221.0" font-size="12.2" text-anchor="start" fill="#000" font-weight="normal" textLength="31.0" lengthAdjust="spacingAndGlyphs">4900</text>
<text x="882.2" y="250.8" font-size="12.2" text-anchor="start" fill="#000" font-weight="normal" textLength="31.0" lengthAdjust="spacingAndGlyphs">4800</text>
<text x="882.2" y="282.6" font-size="12.2" text-anchor="start" fill="#000" font-weight="normal" textLength="31.0" lengthAdjust="spacingAndGlyphs">4700</text>
<text x="882.2" y="313.6" font-size="12.2" text-anchor="start" fill="#000" font-weight="normal" textLength="31.0" lengthAdjust="spacingAndGlyphs">4600</text>
<text x="882.2" y="346.4" font-size="12.2" text-anchor="start" fill="#000" font-weight="normal" textLength="31.0" lengthAdjust="spacingAndGlyphs">4500</text>
<text x="882.2" y="378.7" font-size="12.2" text-anchor="start" fill="#000" font-weight="normal" textLength="31.0" lengthAdjust="spacingAndGlyphs">4400</text>
<text x="882.2" y="413.2" font-size="12.2" text-anchor="start" fill="#000" font-weight="normal" textLength="31.0" lengthAdjust="spacingAndGlyphs">4300</text>
<text x="882.2" y="448.1" font-size="12.2" text-anchor="start" fill="#000" font-weight="normal" textLength="31.0" lengthAdjust="spacingAndGlyphs">4200</text>
<text x="882.2" y="483.2" font-size="12.2" text-anchor="start" fill="#000" font-weight="normal" textLength="31.0" lengthAdjust="spacingAndGlyphs">4100</text>
<text x="909.7" y="536.8" font-size="12.2" text-anchor="end" fill="#000" font-weight="normal" textLength="15.2" lengthAdjust="spacingAndGlyphs">25</text>
<text x="909.7" y="570.2" font-size="12.2" text-anchor="end" fill="#000" font-weight="normal" textLength="19.4" lengthAdjust="spacingAndGlyphs">-25</text>
<text x="909.7" y="605.2" font-size="12.2" text-anchor="end" fill="#000" font-weight="normal" textLength="19.4" lengthAdjust="spacingAndGlyphs">-75</text>
<text x="909.7" y="620.8" font-size="12.2" text-anchor="end" fill="#000" font-weight="normal" textLength="26.6" lengthAdjust="spacingAndGlyphs">-100</text>
<text x="909.7" y="637.6" font-size="12.2" text-anchor="end" fill="#000" font-weight="normal" textLength="26.6" lengthAdjust="spacingAndGlyphs">-125</text>
<text x="64.2" y="386.7" font-size="12.2" text-anchor="end" fill="#000" font-weight="normal" textLength="33.6" lengthAdjust="spacingAndGlyphs">250K</text>
<text x="64.2" y="409.7" font-size="12.2" text-anchor="end" fill="#000" font-weight="normal" textLength="33.6" lengthAdjust="spacingAndGlyphs">200K</text>
<text x="64.2" y="432.5" font-size="12.2" text-anchor="end" fill="#000" font-weight="normal" textLength="33.6" lengthAdjust="spacingAndGlyphs">150K</text>
<text x="64.2" y="456.2" font-size="12.2" text-anchor="end" fill="#000" font-weight="normal" textLength="33.6" lengthAdjust="spacingAndGlyphs">100K</text>
<text x="64.2" y="478.9" font-size="12.2" text-anchor="end" fill="#000" font-weight="normal" textLength="39.5" lengthAdjust="spacingAndGlyphs">50000</text>
<text x="69.2" y="513.2" font-size="12.5" text-anchor="start" fill="#000" font-weight="bold" textLength="31.0" lengthAdjust="spacingAndGlyphs">2022</text>
<text x="119.7" y="513.2" font-size="12.2" text-anchor="middle" fill="#000" font-weight="normal" textLength="14.6" lengthAdjust="spacingAndGlyphs">10</text>
<text x="153.1" y="513.2" font-size="12.2" text-anchor="middle" fill="#000" font-weight="normal" textLength="14.6" lengthAdjust="spacingAndGlyphs">17</text>
<text x="186.5" y="513.2" font-size="12.2" text-anchor="middle" fill="#000" font-weight="normal" textLength="14.6" lengthAdjust="spacingAndGlyphs">24</text>
<text x="220.2" y="513.2" font-size="12.5" text-anchor="middle" fill="#000" font-weight="bold" textLength="26.0" lengthAdjust="spacingAndGlyphs">Feb</text>
<text x="246.5" y="513.2" font-size="12.2" text-anchor="middle" fill="#000" font-weight="normal" textLength="7.4" lengthAdjust="spacingAndGlyphs">7</text>
<text x="279.9" y="513.2" font-size="12.2" text-anchor="middle" fill="#000" font-weight="normal" textLength="14.6" lengthAdjust="spacingAndGlyphs">14</text>
<text x="313.3" y="513.2" font-size="12.2" text-anchor="middle" fill="#000" font-weight="normal" textLength="14.6" lengthAdjust="spacingAndGlyphs">21</text>
<text x="353.7" y="513.2" font-size="12.5" text-anchor="middle" fill="#000" font-weight="bold" textLength="27.0" lengthAdjust="spacingAndGlyphs">Mar</text>
<text x="374.0" y="513.2" font-size="12.2" text-anchor="middle" fill="#000" font-weight="normal" textLength="7.4" lengthAdjust="spacingAndGlyphs">7</text>
<text x="406.8" y="513.2" font-size="12.2" text-anchor="middle" fill="#000" font-weight="normal" textLength="14.6" lengthAdjust="spacingAndGlyphs">14</text>
<text x="433.4" y="513.2" font-size="12.2" text-anchor="middle" fill="#000" font-weight="normal" textLength="14.6" lengthAdjust="spacingAndGlyphs">21</text>
<text x="466.8" y="513.2" font-size="12.2" text-anchor="middle" fill="#000" font-weight="normal" textLength="14.6" lengthAdjust="spacingAndGlyphs">28</text>
<text x="493.8" y="513.2" font-size="12.5" text-anchor="middle" fill="#000" font-weight="bold" textLength="25.5" lengthAdjust="spacingAndGlyphs">Apr</text>
<text x="533.6" y="513.2" font-size="12.2" text-anchor="middle" fill="#000" font-weight="normal" textLength="14.6" lengthAdjust="spacingAndGlyphs">11</text>
<text x="553.6" y="513.2" font-size="12.2" text-anchor="middle" fill="#000" font-weight="normal" textLength="14.6" lengthAdjust="spacingAndGlyphs">18</text>
<text x="587.0" y="513.2" font-size="12.2" text-anchor="middle" fill="#000" font-weight="normal" textLength="14.6" lengthAdjust="spacingAndGlyphs">25</text>
<text x="620.6" y="513.2" font-size="12.5" text-anchor="middle" fill="#000" font-weight="bold" textLength="29.0" lengthAdjust="spacingAndGlyphs">May</text>
<text x="647.0" y="513.2" font-size="12.2" text-anchor="middle" fill="#000" font-weight="normal" textLength="7.4" lengthAdjust="spacingAndGlyphs">9</text>
<text x="680.4" y="513.2" font-size="12.2" text-anchor="middle" fill="#000" font-weight="normal" textLength="14.6" lengthAdjust="spacingAndGlyphs">16</text>
<text x="713.8" y="513.2" font-size="12.2" text-anchor="middle" fill="#000" font-weight="normal" textLength="14.6" lengthAdjust="spacingAndGlyphs">23</text>
<text x="760.8" y="513.2" font-size="12.5" text-anchor="middle" fill="#000" font-weight="bold" textLength="26.0" lengthAdjust="spacingAndGlyphs">Jun</text>
<text x="780.5" y="513.2" font-size="12.2" text-anchor="middle" fill="#000" font-weight="normal" textLength="7.4" lengthAdjust="spacingAndGlyphs">6</text>
<text x="813.9" y="513.2" font-size="12.2" text-anchor="middle" fill="#000" font-weight="normal" textLength="14.6" lengthAdjust="spacingAndGlyphs">13</text>
<text x="847.3" y="513.2" font-size="12.2" text-anchor="middle" fill="#000" font-weight="normal" textLength="14.6" lengthAdjust="spacingAndGlyphs">20</text>
<path d="M874.8 72.4 L880.4 65.80000000000001 H919.4 V79.0 H880.4 Z" fill="#fff" stroke="#000" stroke-width="1.4" stroke-linejoin="miter"/>
<text x="882.3" y="76.6" font-size="12.2" text-anchor="start" fill="#000" font-weight="normal" textLength="34.5" lengthAdjust="spacingAndGlyphs">41.18</text>
<path d="M874.8 251.4 L880.4 244.8 H935.2 V258.0 H880.4 Z" fill="#fff" stroke="#e4072d" stroke-width="1.4" stroke-linejoin="miter"/>
<text x="882.3" y="255.6" font-size="12.2" text-anchor="start" fill="#000" font-weight="normal" textLength="49.0" lengthAdjust="spacingAndGlyphs">4785.72</text>
<path d="M874.8 421.4 L880.4 414.79999999999995 H935.2 V428.0 H880.4 Z" fill="#fff" stroke="#1d1da5" stroke-width="1.4" stroke-linejoin="miter"/>
<text x="882.3" y="425.6" font-size="12.2" text-anchor="start" fill="#000" font-weight="normal" textLength="49.0" lengthAdjust="spacingAndGlyphs">4262.75</text>
<path d="M874.8 470.4 L880.4 463.4 H935.4 V477.4 H880.4 Z" fill="#fff" stroke="#000" stroke-width="1.6" stroke-linejoin="miter"/>
<text x="882.3" y="474.6" font-size="12.2" text-anchor="start" fill="#000" font-weight="bold" textLength="50.5" lengthAdjust="spacingAndGlyphs">4126.50</text>
<path d="M874.8 497 L880.4 490.6 H908 V503.4 H880.4 Z" fill="#fff" stroke="#000" stroke-width="1.3"/>
<text x="882.3" y="501.2" font-size="12.2" text-anchor="start" fill="#000" font-weight="normal" textLength="22.5" lengthAdjust="spacingAndGlyphs">621</text>
<path d="M874.8 549.4 L880.4 542.8 H923.8 V556.0 H880.4 Z" fill="#fff" stroke="#2f78c2" stroke-width="1.4" stroke-linejoin="miter"/>
<text x="882.3" y="553.6" font-size="12.2" text-anchor="start" fill="#000" font-weight="normal" textLength="39.0" lengthAdjust="spacingAndGlyphs">-0.479</text>
<path d="M874.8 580.8 L880.4 574.1999999999999 H932.3 V587.4 H880.4 Z" fill="#fff" stroke="#f21a1a" stroke-width="1.0" stroke-linejoin="miter"/>
<text x="882.3" y="585.0" font-size="12.2" text-anchor="start" fill="#000" font-weight="normal"></text>
<path d="M874.8 580.2 L880.4 573.6 H932.4 V586.8000000000001 H880.4 Z" fill="#fff" stroke="#000" stroke-width="1.4" stroke-linejoin="miter"/>
<text x="882.3" y="584.4" font-size="12.2" text-anchor="start" fill="#000" font-weight="normal" textLength="47.5" lengthAdjust="spacingAndGlyphs">-45.856</text>
</svg>
</body></html>
